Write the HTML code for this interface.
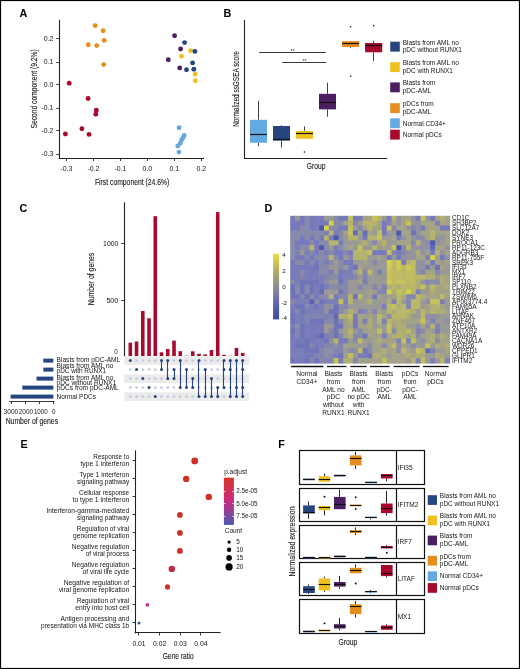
<!DOCTYPE html><html><head><meta charset="utf-8"><title>Figure</title><style>html,body{margin:0;padding:0;background:#fff;width:520px;height:669px;overflow:hidden}text{font-family:"Liberation Sans", sans-serif}</style></head><body><svg width="520" height="669" viewBox="0 0 520 669" style="display:block;will-change:transform;font-family:'Liberation Sans', sans-serif" fill="#222"><rect x="0" y="0" width="520" height="669" fill="#fff"/><text x="19.40" y="16.70" font-size="10.8" font-weight="bold" fill="#000">A</text>
<text x="223.40" y="16.70" font-size="10.8" font-weight="bold" fill="#000">B</text>
<text x="19.60" y="212.40" font-size="10.8" font-weight="bold" fill="#000">C</text>
<text x="264.40" y="212.00" font-size="10.8" font-weight="bold" fill="#000">D</text>
<text x="20.60" y="447.60" font-size="10.8" font-weight="bold" fill="#000">E</text>
<text x="278.20" y="448.30" font-size="10.8" font-weight="bold" fill="#000">F</text>
<line x1="59.50" y1="19.80" x2="59.50" y2="158.70" stroke="#222" stroke-width="1.1"/>
<line x1="58.70" y1="158.50" x2="204.00" y2="158.50" stroke="#222" stroke-width="1.1"/>
<line x1="56.30" y1="38.50" x2="59.20" y2="38.50" stroke="#222" stroke-width="0.9"/>
<text x="53.40" y="41.30" font-size="6.3" text-anchor="end" textLength="9.7" lengthAdjust="spacingAndGlyphs" fill="#151515">0.2</text>
<line x1="56.30" y1="62.50" x2="59.20" y2="62.50" stroke="#222" stroke-width="0.9"/>
<text x="53.40" y="64.30" font-size="6.3" text-anchor="end" textLength="9.7" lengthAdjust="spacingAndGlyphs" fill="#151515">0.1</text>
<line x1="56.30" y1="84.50" x2="59.20" y2="84.50" stroke="#222" stroke-width="0.9"/>
<text x="53.40" y="87.30" font-size="6.3" text-anchor="end" textLength="9.7" lengthAdjust="spacingAndGlyphs" fill="#151515">0.0</text>
<line x1="56.30" y1="108.50" x2="59.20" y2="108.50" stroke="#222" stroke-width="0.9"/>
<text x="53.40" y="110.30" font-size="6.3" text-anchor="end" textLength="11.9" lengthAdjust="spacingAndGlyphs" fill="#151515">-0.1</text>
<line x1="56.30" y1="130.50" x2="59.20" y2="130.50" stroke="#222" stroke-width="0.9"/>
<text x="53.40" y="133.30" font-size="6.3" text-anchor="end" textLength="11.9" lengthAdjust="spacingAndGlyphs" fill="#151515">-0.2</text>
<line x1="56.30" y1="154.50" x2="59.20" y2="154.50" stroke="#222" stroke-width="0.9"/>
<text x="53.40" y="156.30" font-size="6.3" text-anchor="end" textLength="11.9" lengthAdjust="spacingAndGlyphs" fill="#151515">-0.3</text>
<line x1="66.50" y1="158.20" x2="66.50" y2="161.00" stroke="#222" stroke-width="0.9"/>
<text x="66.40" y="171.40" font-size="6.3" text-anchor="middle" textLength="11.9" lengthAdjust="spacingAndGlyphs" fill="#151515">-0.3</text>
<line x1="93.50" y1="158.20" x2="93.50" y2="161.00" stroke="#222" stroke-width="0.9"/>
<text x="93.40" y="171.40" font-size="6.3" text-anchor="middle" textLength="11.9" lengthAdjust="spacingAndGlyphs" fill="#151515">-0.2</text>
<line x1="120.50" y1="158.20" x2="120.50" y2="161.00" stroke="#222" stroke-width="0.9"/>
<text x="120.40" y="171.40" font-size="6.3" text-anchor="middle" textLength="11.9" lengthAdjust="spacingAndGlyphs" fill="#151515">-0.1</text>
<line x1="147.50" y1="158.20" x2="147.50" y2="161.00" stroke="#222" stroke-width="0.9"/>
<text x="147.40" y="171.40" font-size="6.3" text-anchor="middle" textLength="9.7" lengthAdjust="spacingAndGlyphs" fill="#151515">0.0</text>
<line x1="174.50" y1="158.20" x2="174.50" y2="161.00" stroke="#222" stroke-width="0.9"/>
<text x="174.40" y="171.40" font-size="6.3" text-anchor="middle" textLength="9.7" lengthAdjust="spacingAndGlyphs" fill="#151515">0.1</text>
<line x1="201.50" y1="158.20" x2="201.50" y2="161.00" stroke="#222" stroke-width="0.9"/>
<text x="201.40" y="171.40" font-size="6.3" text-anchor="middle" textLength="9.7" lengthAdjust="spacingAndGlyphs" fill="#151515">0.2</text>
<text x="132.10" y="184.50" font-size="8.7" stroke="#151515" stroke-width="0.1" text-anchor="middle" textLength="74.4" lengthAdjust="spacingAndGlyphs" fill="#151515">First component (24.6%)</text>
<text x="36.70" y="88.90" font-size="8.7" stroke="#151515" stroke-width="0.1" text-anchor="middle" textLength="79.2" lengthAdjust="spacingAndGlyphs" fill="#151515" transform="rotate(-90 36.70 88.90)">Second component (9.2%)</text>
<circle cx="95.20" cy="25.60" r="2.45" fill="#e58d1d"/>
<circle cx="103.10" cy="30.80" r="2.45" fill="#e58d1d"/>
<circle cx="104.20" cy="40.40" r="2.45" fill="#e58d1d"/>
<circle cx="88.30" cy="44.80" r="2.45" fill="#e58d1d"/>
<circle cx="96.70" cy="45.60" r="2.45" fill="#e58d1d"/>
<circle cx="103.70" cy="64.60" r="2.45" fill="#e58d1d"/>
<circle cx="69.20" cy="83.30" r="2.45" fill="#a80a2e"/>
<circle cx="88.10" cy="98.50" r="2.45" fill="#a80a2e"/>
<circle cx="96.30" cy="110.20" r="2.45" fill="#a80a2e"/>
<circle cx="95.80" cy="114.20" r="2.45" fill="#a80a2e"/>
<circle cx="81.90" cy="128.70" r="2.45" fill="#a80a2e"/>
<circle cx="65.40" cy="134.00" r="2.45" fill="#a80a2e"/>
<circle cx="89.00" cy="134.40" r="2.45" fill="#a80a2e"/>
<circle cx="174.60" cy="35.70" r="2.45" fill="#4b1f60"/>
<circle cx="184.60" cy="42.60" r="2.45" fill="#27467f"/>
<circle cx="180.60" cy="49.00" r="2.45" fill="#4b1f60"/>
<circle cx="190.60" cy="50.80" r="2.45" fill="#f0c020"/>
<circle cx="194.90" cy="51.40" r="2.45" fill="#27467f"/>
<circle cx="181.50" cy="56.20" r="2.45" fill="#f0c020"/>
<circle cx="168.30" cy="59.70" r="2.45" fill="#4b1f60"/>
<circle cx="192.60" cy="62.90" r="2.45" fill="#27467f"/>
<circle cx="179.70" cy="67.90" r="2.45" fill="#4b1f60"/>
<circle cx="186.50" cy="69.80" r="2.45" fill="#27467f"/>
<circle cx="193.80" cy="69.30" r="2.45" fill="#27467f"/>
<circle cx="195.20" cy="74.10" r="2.45" fill="#f0c020"/>
<circle cx="195.30" cy="80.80" r="2.45" fill="#f0c020"/>
<circle cx="179.10" cy="127.70" r="2.45" fill="#64a9e0"/>
<circle cx="184.20" cy="135.40" r="2.45" fill="#64a9e0"/>
<circle cx="183.00" cy="137.90" r="2.45" fill="#64a9e0"/>
<circle cx="181.60" cy="140.00" r="2.45" fill="#64a9e0"/>
<circle cx="180.30" cy="143.30" r="2.45" fill="#64a9e0"/>
<circle cx="177.80" cy="146.00" r="2.45" fill="#64a9e0"/>
<circle cx="178.90" cy="152.10" r="2.45" fill="#64a9e0"/>
<line x1="244.50" y1="19.90" x2="244.50" y2="158.70" stroke="#222" stroke-width="1.1"/>
<line x1="244.20" y1="158.50" x2="387.20" y2="158.50" stroke="#222" stroke-width="1.1"/>
<text x="239.00" y="89.00" font-size="8.7" stroke="#151515" stroke-width="0.1" text-anchor="middle" textLength="75.7" lengthAdjust="spacingAndGlyphs" fill="#151515" transform="rotate(-90 239.00 89.00)">Normalized ssGSEA score</text>
<text x="316.05" y="169.30" font-size="8.7" stroke="#151515" stroke-width="0.1" text-anchor="middle" textLength="18.7" lengthAdjust="spacingAndGlyphs" fill="#151515">Group</text>
<line x1="259.20" y1="52.50" x2="325.80" y2="52.50" stroke="#222" stroke-width="0.9"/>
<text x="292.70" y="52.70" font-size="5.5" text-anchor="middle" fill="#333">**</text>
<line x1="282.20" y1="62.50" x2="326.20" y2="62.50" stroke="#222" stroke-width="0.9"/>
<text x="304.30" y="62.90" font-size="5.5" text-anchor="middle" fill="#333">**</text>
<line x1="258.50" y1="100.80" x2="258.50" y2="119.80" stroke="#111" stroke-width="0.8"/>
<line x1="258.50" y1="142.80" x2="258.50" y2="146.30" stroke="#111" stroke-width="0.8"/>
<rect x="250.00" y="119.80" width="17.00" height="23.00" fill="#64a9e0"/>
<line x1="250.00" y1="134.50" x2="267.00" y2="134.50" stroke="#111" stroke-width="1.2"/>
<line x1="281.50" y1="125.30" x2="281.50" y2="126.00" stroke="#111" stroke-width="0.8"/>
<line x1="281.50" y1="140.60" x2="281.50" y2="147.50" stroke="#111" stroke-width="0.8"/>
<rect x="273.00" y="126.00" width="17.00" height="14.60" fill="#27467f"/>
<line x1="273.00" y1="139.50" x2="290.00" y2="139.50" stroke="#111" stroke-width="1.2"/>
<line x1="304.50" y1="126.40" x2="304.50" y2="131.00" stroke="#111" stroke-width="0.8"/>
<rect x="295.90" y="131.00" width="17.10" height="7.80" fill="#f0c020"/>
<line x1="295.90" y1="133.50" x2="313.00" y2="133.50" stroke="#111" stroke-width="1.2"/>
<circle cx="304.45" cy="152.00" r="0.80" fill="#111"/>
<line x1="327.50" y1="82.60" x2="327.50" y2="93.80" stroke="#111" stroke-width="0.8"/>
<line x1="327.50" y1="109.40" x2="327.50" y2="116.70" stroke="#111" stroke-width="0.8"/>
<rect x="319.00" y="93.80" width="17.00" height="15.60" fill="#4b1f60"/>
<line x1="319.00" y1="102.50" x2="336.00" y2="102.50" stroke="#111" stroke-width="1.2"/>
<line x1="350.50" y1="47.00" x2="350.50" y2="48.00" stroke="#111" stroke-width="0.8"/>
<rect x="342.10" y="41.10" width="17.00" height="5.90" fill="#e58d1d"/>
<line x1="342.10" y1="43.50" x2="359.10" y2="43.50" stroke="#111" stroke-width="1.2"/>
<circle cx="350.60" cy="26.80" r="0.80" fill="#111"/>
<circle cx="350.60" cy="76.20" r="0.80" fill="#111"/>
<line x1="373.50" y1="40.60" x2="373.50" y2="43.00" stroke="#111" stroke-width="0.8"/>
<line x1="373.50" y1="52.30" x2="373.50" y2="61.20" stroke="#111" stroke-width="0.8"/>
<rect x="365.10" y="43.00" width="17.10" height="9.30" fill="#a80a2e"/>
<line x1="365.10" y1="45.50" x2="382.20" y2="45.50" stroke="#111" stroke-width="1.2"/>
<circle cx="373.65" cy="25.80" r="0.80" fill="#111"/>
<rect x="390.20" y="41.70" width="9.60" height="9.90" fill="#27467f"/>
<text x="402.70" y="44.75" font-size="6.5" fill="#151515">Blasts from AML no</text>
<text x="402.70" y="52.10" font-size="6.5" fill="#151515">pDC without RUNX1</text>
<rect x="390.20" y="62.20" width="9.60" height="9.90" fill="#f0c020"/>
<text x="402.70" y="65.25" font-size="6.5" fill="#151515">Blasts from AML no</text>
<text x="402.70" y="72.60" font-size="6.5" fill="#151515">pDC with RUNX1</text>
<rect x="390.20" y="82.40" width="9.60" height="9.90" fill="#4b1f60"/>
<text x="402.70" y="85.45" font-size="6.5" fill="#151515">Blasts from</text>
<text x="402.70" y="92.80" font-size="6.5" fill="#151515">pDC-AML</text>
<rect x="390.20" y="103.20" width="9.60" height="9.90" fill="#e58d1d"/>
<text x="402.70" y="106.25" font-size="6.5" fill="#151515">pDCs from</text>
<text x="402.70" y="113.60" font-size="6.5" fill="#151515">pDC-AML</text>
<rect x="390.20" y="118.30" width="9.60" height="9.90" fill="#64a9e0"/>
<text x="402.70" y="125.55" font-size="6.5" fill="#151515">Normal CD34+</text>
<rect x="390.20" y="129.70" width="9.60" height="9.90" fill="#a80a2e"/>
<text x="402.70" y="136.95" font-size="6.5" fill="#151515">Normal pDCs</text>
<line x1="124.50" y1="202.30" x2="124.50" y2="356.40" stroke="#222" stroke-width="1.1"/>
<line x1="121.20" y1="243.50" x2="124.00" y2="243.50" stroke="#222" stroke-width="0.9"/>
<text x="118.30" y="246.30" font-size="6.5" text-anchor="end" textLength="15.2" lengthAdjust="spacingAndGlyphs" fill="#151515">1000</text>
<line x1="121.20" y1="300.50" x2="124.00" y2="300.50" stroke="#222" stroke-width="0.9"/>
<text x="118.30" y="302.50" font-size="6.5" text-anchor="end" textLength="11.9" lengthAdjust="spacingAndGlyphs" fill="#151515">500</text>
<text x="117.90" y="353.90" font-size="6.4" text-anchor="end" fill="#151515">0</text>
<text x="94.20" y="279.00" font-size="8.7" stroke="#151515" stroke-width="0.1" text-anchor="middle" textLength="52.6" lengthAdjust="spacingAndGlyphs" fill="#151515" transform="rotate(-90 94.20 279.00)">Number of genes</text>
<rect x="128.50" y="342.70" width="3.60" height="13.30" fill="#a80a2e"/>
<rect x="134.75" y="341.50" width="3.60" height="14.50" fill="#a80a2e"/>
<rect x="140.99" y="311.00" width="3.60" height="45.00" fill="#a80a2e"/>
<rect x="147.24" y="318.30" width="3.60" height="37.70" fill="#a80a2e"/>
<rect x="153.48" y="216.20" width="3.60" height="139.80" fill="#a80a2e"/>
<rect x="159.72" y="352.30" width="3.60" height="3.70" fill="#a80a2e"/>
<rect x="165.97" y="349.00" width="3.60" height="7.00" fill="#a80a2e"/>
<rect x="172.22" y="340.60" width="3.60" height="15.40" fill="#a80a2e"/>
<rect x="178.46" y="351.20" width="3.60" height="4.80" fill="#a80a2e"/>
<rect x="184.70" y="355.20" width="3.60" height="0.80" fill="#e8a0b0"/>
<rect x="190.95" y="351.30" width="3.60" height="4.70" fill="#a80a2e"/>
<rect x="197.19" y="353.80" width="3.60" height="2.20" fill="#a80a2e"/>
<rect x="203.44" y="354.40" width="3.60" height="1.60" fill="#a80a2e"/>
<rect x="209.69" y="350.00" width="3.60" height="6.00" fill="#a80a2e"/>
<rect x="215.93" y="212.10" width="3.60" height="143.90" fill="#a80a2e"/>
<rect x="222.18" y="354.80" width="3.60" height="1.20" fill="#a80a2e"/>
<rect x="228.42" y="355.40" width="3.60" height="0.60" fill="#e8a0b0"/>
<rect x="234.67" y="347.90" width="3.60" height="8.10" fill="#a80a2e"/>
<rect x="240.91" y="352.90" width="3.60" height="3.10" fill="#a80a2e"/>
<rect x="124.20" y="356.30" width="125.00" height="8.60" fill="#ebebeb"/>
<rect x="124.20" y="374.30" width="125.00" height="8.60" fill="#ebebeb"/>
<rect x="124.20" y="392.30" width="125.00" height="8.60" fill="#ebebeb"/>
<circle cx="130.30" cy="369.60" r="1.35" fill="#c6cade"/>
<circle cx="130.30" cy="378.60" r="1.35" fill="#c6cade"/>
<circle cx="130.30" cy="387.60" r="1.35" fill="#c6cade"/>
<circle cx="130.30" cy="396.60" r="1.35" fill="#c6cade"/>
<circle cx="130.30" cy="360.60" r="1.50" fill="#27467f"/>
<circle cx="136.55" cy="360.60" r="1.35" fill="#c6cade"/>
<circle cx="136.55" cy="378.60" r="1.35" fill="#c6cade"/>
<circle cx="136.55" cy="387.60" r="1.35" fill="#c6cade"/>
<circle cx="136.55" cy="396.60" r="1.35" fill="#c6cade"/>
<circle cx="136.55" cy="369.60" r="1.50" fill="#27467f"/>
<circle cx="142.79" cy="360.60" r="1.35" fill="#c6cade"/>
<circle cx="142.79" cy="369.60" r="1.35" fill="#c6cade"/>
<circle cx="142.79" cy="387.60" r="1.35" fill="#c6cade"/>
<circle cx="142.79" cy="396.60" r="1.35" fill="#c6cade"/>
<circle cx="142.79" cy="378.60" r="1.50" fill="#27467f"/>
<circle cx="149.04" cy="360.60" r="1.35" fill="#c6cade"/>
<circle cx="149.04" cy="369.60" r="1.35" fill="#c6cade"/>
<circle cx="149.04" cy="378.60" r="1.35" fill="#c6cade"/>
<circle cx="149.04" cy="396.60" r="1.35" fill="#c6cade"/>
<circle cx="149.04" cy="387.60" r="1.50" fill="#27467f"/>
<circle cx="155.28" cy="360.60" r="1.35" fill="#c6cade"/>
<circle cx="155.28" cy="369.60" r="1.35" fill="#c6cade"/>
<circle cx="155.28" cy="378.60" r="1.35" fill="#c6cade"/>
<circle cx="155.28" cy="387.60" r="1.35" fill="#c6cade"/>
<circle cx="155.28" cy="396.60" r="1.50" fill="#27467f"/>
<circle cx="161.53" cy="378.60" r="1.35" fill="#c6cade"/>
<circle cx="161.53" cy="387.60" r="1.35" fill="#c6cade"/>
<circle cx="161.53" cy="396.60" r="1.35" fill="#c6cade"/>
<line x1="161.50" y1="360.60" x2="161.50" y2="369.60" stroke="#27467f" stroke-width="1.1"/>
<circle cx="161.53" cy="360.60" r="1.50" fill="#27467f"/>
<circle cx="161.53" cy="369.60" r="1.50" fill="#27467f"/>
<circle cx="167.77" cy="369.60" r="1.35" fill="#c6cade"/>
<circle cx="167.77" cy="387.60" r="1.35" fill="#c6cade"/>
<circle cx="167.77" cy="396.60" r="1.35" fill="#c6cade"/>
<line x1="167.50" y1="360.60" x2="167.50" y2="378.60" stroke="#27467f" stroke-width="1.1"/>
<circle cx="167.77" cy="360.60" r="1.50" fill="#27467f"/>
<circle cx="167.77" cy="378.60" r="1.50" fill="#27467f"/>
<circle cx="174.02" cy="360.60" r="1.35" fill="#c6cade"/>
<circle cx="174.02" cy="387.60" r="1.35" fill="#c6cade"/>
<circle cx="174.02" cy="396.60" r="1.35" fill="#c6cade"/>
<line x1="174.50" y1="369.60" x2="174.50" y2="378.60" stroke="#27467f" stroke-width="1.1"/>
<circle cx="174.02" cy="369.60" r="1.50" fill="#27467f"/>
<circle cx="174.02" cy="378.60" r="1.50" fill="#27467f"/>
<circle cx="180.26" cy="369.60" r="1.35" fill="#c6cade"/>
<circle cx="180.26" cy="378.60" r="1.35" fill="#c6cade"/>
<circle cx="180.26" cy="396.60" r="1.35" fill="#c6cade"/>
<line x1="180.50" y1="360.60" x2="180.50" y2="387.60" stroke="#27467f" stroke-width="1.1"/>
<circle cx="180.26" cy="360.60" r="1.50" fill="#27467f"/>
<circle cx="180.26" cy="387.60" r="1.50" fill="#27467f"/>
<circle cx="186.50" cy="360.60" r="1.35" fill="#c6cade"/>
<circle cx="186.50" cy="378.60" r="1.35" fill="#c6cade"/>
<circle cx="186.50" cy="396.60" r="1.35" fill="#c6cade"/>
<line x1="186.50" y1="369.60" x2="186.50" y2="387.60" stroke="#27467f" stroke-width="1.1"/>
<circle cx="186.50" cy="369.60" r="1.50" fill="#27467f"/>
<circle cx="186.50" cy="387.60" r="1.50" fill="#27467f"/>
<circle cx="192.75" cy="360.60" r="1.35" fill="#c6cade"/>
<circle cx="192.75" cy="369.60" r="1.35" fill="#c6cade"/>
<circle cx="192.75" cy="396.60" r="1.35" fill="#c6cade"/>
<line x1="192.50" y1="378.60" x2="192.50" y2="387.60" stroke="#27467f" stroke-width="1.1"/>
<circle cx="192.75" cy="378.60" r="1.50" fill="#27467f"/>
<circle cx="192.75" cy="387.60" r="1.50" fill="#27467f"/>
<circle cx="199.00" cy="369.60" r="1.35" fill="#c6cade"/>
<circle cx="199.00" cy="378.60" r="1.35" fill="#c6cade"/>
<circle cx="199.00" cy="387.60" r="1.35" fill="#c6cade"/>
<line x1="198.50" y1="360.60" x2="198.50" y2="396.60" stroke="#27467f" stroke-width="1.1"/>
<circle cx="199.00" cy="360.60" r="1.50" fill="#27467f"/>
<circle cx="199.00" cy="396.60" r="1.50" fill="#27467f"/>
<circle cx="205.24" cy="360.60" r="1.35" fill="#c6cade"/>
<circle cx="205.24" cy="378.60" r="1.35" fill="#c6cade"/>
<circle cx="205.24" cy="387.60" r="1.35" fill="#c6cade"/>
<line x1="205.50" y1="369.60" x2="205.50" y2="396.60" stroke="#27467f" stroke-width="1.1"/>
<circle cx="205.24" cy="369.60" r="1.50" fill="#27467f"/>
<circle cx="205.24" cy="396.60" r="1.50" fill="#27467f"/>
<circle cx="211.49" cy="360.60" r="1.35" fill="#c6cade"/>
<circle cx="211.49" cy="369.60" r="1.35" fill="#c6cade"/>
<circle cx="211.49" cy="387.60" r="1.35" fill="#c6cade"/>
<line x1="211.50" y1="378.60" x2="211.50" y2="396.60" stroke="#27467f" stroke-width="1.1"/>
<circle cx="211.49" cy="378.60" r="1.50" fill="#27467f"/>
<circle cx="211.49" cy="396.60" r="1.50" fill="#27467f"/>
<circle cx="217.73" cy="360.60" r="1.35" fill="#c6cade"/>
<circle cx="217.73" cy="369.60" r="1.35" fill="#c6cade"/>
<circle cx="217.73" cy="378.60" r="1.35" fill="#c6cade"/>
<line x1="217.50" y1="387.60" x2="217.50" y2="396.60" stroke="#27467f" stroke-width="1.1"/>
<circle cx="217.73" cy="387.60" r="1.50" fill="#27467f"/>
<circle cx="217.73" cy="396.60" r="1.50" fill="#27467f"/>
<circle cx="223.98" cy="378.60" r="1.35" fill="#c6cade"/>
<circle cx="223.98" cy="396.60" r="1.35" fill="#c6cade"/>
<line x1="223.50" y1="360.60" x2="223.50" y2="387.60" stroke="#27467f" stroke-width="1.1"/>
<circle cx="223.98" cy="360.60" r="1.50" fill="#27467f"/>
<circle cx="223.98" cy="369.60" r="1.50" fill="#27467f"/>
<circle cx="223.98" cy="387.60" r="1.50" fill="#27467f"/>
<circle cx="230.22" cy="378.60" r="1.35" fill="#c6cade"/>
<circle cx="230.22" cy="387.60" r="1.35" fill="#c6cade"/>
<line x1="230.50" y1="360.60" x2="230.50" y2="396.60" stroke="#27467f" stroke-width="1.1"/>
<circle cx="230.22" cy="360.60" r="1.50" fill="#27467f"/>
<circle cx="230.22" cy="369.60" r="1.50" fill="#27467f"/>
<circle cx="230.22" cy="396.60" r="1.50" fill="#27467f"/>
<circle cx="236.47" cy="369.60" r="1.35" fill="#c6cade"/>
<circle cx="236.47" cy="378.60" r="1.35" fill="#c6cade"/>
<line x1="236.50" y1="360.60" x2="236.50" y2="396.60" stroke="#27467f" stroke-width="1.1"/>
<circle cx="236.47" cy="360.60" r="1.50" fill="#27467f"/>
<circle cx="236.47" cy="387.60" r="1.50" fill="#27467f"/>
<circle cx="236.47" cy="396.60" r="1.50" fill="#27467f"/>
<circle cx="242.71" cy="378.60" r="1.35" fill="#c6cade"/>
<line x1="242.50" y1="360.60" x2="242.50" y2="396.60" stroke="#27467f" stroke-width="1.1"/>
<circle cx="242.71" cy="360.60" r="1.50" fill="#27467f"/>
<circle cx="242.71" cy="369.60" r="1.50" fill="#27467f"/>
<circle cx="242.71" cy="387.60" r="1.50" fill="#27467f"/>
<circle cx="242.71" cy="396.60" r="1.50" fill="#27467f"/>
<rect x="43.30" y="358.60" width="10.00" height="4.00" fill="#27467f"/>
<rect x="43.30" y="367.60" width="10.00" height="4.00" fill="#27467f"/>
<rect x="36.50" y="376.60" width="16.80" height="4.00" fill="#27467f"/>
<rect x="22.30" y="385.60" width="31.00" height="4.00" fill="#27467f"/>
<rect x="10.60" y="394.60" width="42.70" height="4.00" fill="#27467f"/>
<line x1="9.20" y1="401.50" x2="54.40" y2="401.50" stroke="#222" stroke-width="0.9"/>
<line x1="11.50" y1="401.50" x2="11.50" y2="404.00" stroke="#222" stroke-width="0.9"/>
<line x1="25.50" y1="401.50" x2="25.50" y2="404.00" stroke="#222" stroke-width="0.9"/>
<line x1="39.50" y1="401.50" x2="39.50" y2="404.00" stroke="#222" stroke-width="0.9"/>
<line x1="53.50" y1="401.50" x2="53.50" y2="404.00" stroke="#222" stroke-width="0.9"/>
<text x="3.60" y="414.00" font-size="6.3" textLength="14.6" lengthAdjust="spacingAndGlyphs" fill="#151515">3000</text>
<text x="18.80" y="414.00" font-size="6.3" textLength="14.2" lengthAdjust="spacingAndGlyphs" fill="#151515">2000</text>
<text x="33.90" y="414.00" font-size="6.3" textLength="13.899999999999999" lengthAdjust="spacingAndGlyphs" fill="#151515">1000</text>
<text x="52.10" y="414.00" font-size="6.3" fill="#151515">0</text>
<text x="5.70" y="424.30" font-size="8.7" stroke="#151515" stroke-width="0.1" textLength="52.4" lengthAdjust="spacingAndGlyphs" fill="#151515">Number of genes</text>
<text x="56.60" y="362.40" font-size="6.4" textLength="63.6" lengthAdjust="spacingAndGlyphs" fill="#151515">Blasts from pDC-AML</text>
<text x="56.60" y="368.20" font-size="6.4" textLength="56.8" lengthAdjust="spacingAndGlyphs" fill="#151515">Blasts from AML no</text>
<text x="56.60" y="372.90" font-size="6.4" textLength="49.4" lengthAdjust="spacingAndGlyphs" fill="#151515">pDC with RUNX1</text>
<text x="56.60" y="379.60" font-size="6.4" textLength="56.8" lengthAdjust="spacingAndGlyphs" fill="#151515">Blasts from AML no</text>
<text x="56.60" y="384.90" font-size="6.4" textLength="59.5" lengthAdjust="spacingAndGlyphs" fill="#151515">pDC without RUNX1</text>
<text x="56.60" y="390.30" font-size="6.4" textLength="62.2" lengthAdjust="spacingAndGlyphs" fill="#151515">pDCs from pDC-AML</text>
<text x="56.60" y="399.10" font-size="6.4" textLength="39.3" lengthAdjust="spacingAndGlyphs" fill="#151515">Normal PDCs</text>
<rect x="290.20" y="215.80" width="5.43" height="5.51" fill="#7a7eb8"/>
<rect x="295.03" y="215.80" width="5.43" height="5.51" fill="#999996"/>
<rect x="299.85" y="215.80" width="5.43" height="5.51" fill="#767abc"/>
<rect x="304.68" y="215.80" width="5.43" height="5.51" fill="#888aaa"/>
<rect x="309.51" y="215.80" width="5.43" height="5.51" fill="#767abc"/>
<rect x="314.34" y="215.80" width="5.43" height="5.51" fill="#767abc"/>
<rect x="319.16" y="215.80" width="5.43" height="5.51" fill="#767abc"/>
<rect x="323.99" y="215.80" width="5.43" height="5.51" fill="#999996"/>
<rect x="328.82" y="215.80" width="5.43" height="5.51" fill="#999996"/>
<rect x="333.65" y="215.80" width="5.43" height="5.51" fill="#888aaa"/>
<rect x="338.47" y="215.80" width="5.43" height="5.51" fill="#767abc"/>
<rect x="343.30" y="215.80" width="5.43" height="5.51" fill="#767abc"/>
<rect x="348.13" y="215.80" width="5.43" height="5.51" fill="#c6c25b"/>
<rect x="352.95" y="215.80" width="5.43" height="5.51" fill="#767abc"/>
<rect x="357.78" y="215.80" width="5.43" height="5.51" fill="#767abc"/>
<rect x="362.61" y="215.80" width="5.43" height="5.51" fill="#a4a386"/>
<rect x="367.44" y="215.80" width="5.43" height="5.51" fill="#a4a386"/>
<rect x="372.26" y="215.80" width="5.43" height="5.51" fill="#c6c25b"/>
<rect x="377.09" y="215.80" width="5.43" height="5.51" fill="#b6b46c"/>
<rect x="381.92" y="215.80" width="5.43" height="5.51" fill="#999996"/>
<rect x="386.75" y="215.80" width="5.43" height="5.51" fill="#767abc"/>
<rect x="391.57" y="215.80" width="5.43" height="5.51" fill="#b6b46c"/>
<rect x="396.40" y="215.80" width="5.43" height="5.51" fill="#9292a0"/>
<rect x="401.23" y="215.80" width="5.43" height="5.51" fill="#a4a386"/>
<rect x="406.05" y="215.80" width="5.43" height="5.51" fill="#a4a386"/>
<rect x="410.88" y="215.80" width="5.43" height="5.51" fill="#9292a0"/>
<rect x="415.71" y="215.80" width="5.43" height="5.51" fill="#767abc"/>
<rect x="420.54" y="215.80" width="5.43" height="5.51" fill="#c6c25b"/>
<rect x="425.36" y="215.80" width="5.43" height="5.51" fill="#9292a0"/>
<rect x="430.19" y="215.80" width="5.43" height="5.51" fill="#767abc"/>
<rect x="435.02" y="215.80" width="5.43" height="5.51" fill="#a4a386"/>
<rect x="439.85" y="215.80" width="5.43" height="5.51" fill="#b6b46c"/>
<rect x="444.67" y="215.80" width="5.43" height="5.51" fill="#a4a386"/>
<rect x="290.20" y="220.71" width="5.43" height="5.51" fill="#767abc"/>
<rect x="295.03" y="220.71" width="5.43" height="5.51" fill="#767abc"/>
<rect x="299.85" y="220.71" width="5.43" height="5.51" fill="#767abc"/>
<rect x="304.68" y="220.71" width="5.43" height="5.51" fill="#888aaa"/>
<rect x="309.51" y="220.71" width="5.43" height="5.51" fill="#767abc"/>
<rect x="314.34" y="220.71" width="5.43" height="5.51" fill="#7a7eb8"/>
<rect x="319.16" y="220.71" width="5.43" height="5.51" fill="#767abc"/>
<rect x="323.99" y="220.71" width="5.43" height="5.51" fill="#767abc"/>
<rect x="328.82" y="220.71" width="5.43" height="5.51" fill="#d6d04a"/>
<rect x="333.65" y="220.71" width="5.43" height="5.51" fill="#888aaa"/>
<rect x="338.47" y="220.71" width="5.43" height="5.51" fill="#888aaa"/>
<rect x="343.30" y="220.71" width="5.43" height="5.51" fill="#a4a386"/>
<rect x="348.13" y="220.71" width="5.43" height="5.51" fill="#b6b46c"/>
<rect x="352.95" y="220.71" width="5.43" height="5.51" fill="#8486ae"/>
<rect x="357.78" y="220.71" width="5.43" height="5.51" fill="#999996"/>
<rect x="362.61" y="220.71" width="5.43" height="5.51" fill="#b6b46c"/>
<rect x="367.44" y="220.71" width="5.43" height="5.51" fill="#b6b46c"/>
<rect x="372.26" y="220.71" width="5.43" height="5.51" fill="#b6b46c"/>
<rect x="377.09" y="220.71" width="5.43" height="5.51" fill="#a4a386"/>
<rect x="381.92" y="220.71" width="5.43" height="5.51" fill="#767abc"/>
<rect x="386.75" y="220.71" width="5.43" height="5.51" fill="#8486ae"/>
<rect x="391.57" y="220.71" width="5.43" height="5.51" fill="#a4a386"/>
<rect x="396.40" y="220.71" width="5.43" height="5.51" fill="#9292a0"/>
<rect x="401.23" y="220.71" width="5.43" height="5.51" fill="#a4a386"/>
<rect x="406.05" y="220.71" width="5.43" height="5.51" fill="#c6c25b"/>
<rect x="410.88" y="220.71" width="5.43" height="5.51" fill="#9292a0"/>
<rect x="415.71" y="220.71" width="5.43" height="5.51" fill="#9292a0"/>
<rect x="420.54" y="220.71" width="5.43" height="5.51" fill="#a4a386"/>
<rect x="425.36" y="220.71" width="5.43" height="5.51" fill="#a4a386"/>
<rect x="430.19" y="220.71" width="5.43" height="5.51" fill="#a4a386"/>
<rect x="435.02" y="220.71" width="5.43" height="5.51" fill="#7c7fb6"/>
<rect x="439.85" y="220.71" width="5.43" height="5.51" fill="#a4a386"/>
<rect x="444.67" y="220.71" width="5.43" height="5.51" fill="#a4a386"/>
<rect x="290.20" y="225.61" width="5.43" height="5.51" fill="#767abc"/>
<rect x="295.03" y="225.61" width="5.43" height="5.51" fill="#767abc"/>
<rect x="299.85" y="225.61" width="5.43" height="5.51" fill="#888aaa"/>
<rect x="304.68" y="225.61" width="5.43" height="5.51" fill="#888aaa"/>
<rect x="309.51" y="225.61" width="5.43" height="5.51" fill="#767abc"/>
<rect x="314.34" y="225.61" width="5.43" height="5.51" fill="#7a7eb8"/>
<rect x="319.16" y="225.61" width="5.43" height="5.51" fill="#4c58b0"/>
<rect x="323.99" y="225.61" width="5.43" height="5.51" fill="#d6d04a"/>
<rect x="328.82" y="225.61" width="5.43" height="5.51" fill="#888aaa"/>
<rect x="333.65" y="225.61" width="5.43" height="5.51" fill="#888aaa"/>
<rect x="338.47" y="225.61" width="5.43" height="5.51" fill="#7a7eb8"/>
<rect x="343.30" y="225.61" width="5.43" height="5.51" fill="#767abc"/>
<rect x="348.13" y="225.61" width="5.43" height="5.51" fill="#c6c25b"/>
<rect x="352.95" y="225.61" width="5.43" height="5.51" fill="#999996"/>
<rect x="357.78" y="225.61" width="5.43" height="5.51" fill="#8486ae"/>
<rect x="362.61" y="225.61" width="5.43" height="5.51" fill="#a4a386"/>
<rect x="367.44" y="225.61" width="5.43" height="5.51" fill="#b6b46c"/>
<rect x="372.26" y="225.61" width="5.43" height="5.51" fill="#a4a386"/>
<rect x="377.09" y="225.61" width="5.43" height="5.51" fill="#a4a386"/>
<rect x="381.92" y="225.61" width="5.43" height="5.51" fill="#767abc"/>
<rect x="386.75" y="225.61" width="5.43" height="5.51" fill="#c6c25b"/>
<rect x="391.57" y="225.61" width="5.43" height="5.51" fill="#8486ae"/>
<rect x="396.40" y="225.61" width="5.43" height="5.51" fill="#a4a386"/>
<rect x="401.23" y="225.61" width="5.43" height="5.51" fill="#a4a386"/>
<rect x="406.05" y="225.61" width="5.43" height="5.51" fill="#9292a0"/>
<rect x="410.88" y="225.61" width="5.43" height="5.51" fill="#8486ae"/>
<rect x="415.71" y="225.61" width="5.43" height="5.51" fill="#9292a0"/>
<rect x="420.54" y="225.61" width="5.43" height="5.51" fill="#767abc"/>
<rect x="425.36" y="225.61" width="5.43" height="5.51" fill="#a4a386"/>
<rect x="430.19" y="225.61" width="5.43" height="5.51" fill="#a4a386"/>
<rect x="435.02" y="225.61" width="5.43" height="5.51" fill="#a4a386"/>
<rect x="439.85" y="225.61" width="5.43" height="5.51" fill="#767abc"/>
<rect x="444.67" y="225.61" width="5.43" height="5.51" fill="#767abc"/>
<rect x="290.20" y="230.52" width="5.43" height="5.51" fill="#888aaa"/>
<rect x="295.03" y="230.52" width="5.43" height="5.51" fill="#888aaa"/>
<rect x="299.85" y="230.52" width="5.43" height="5.51" fill="#888aaa"/>
<rect x="304.68" y="230.52" width="5.43" height="5.51" fill="#888aaa"/>
<rect x="309.51" y="230.52" width="5.43" height="5.51" fill="#888aaa"/>
<rect x="314.34" y="230.52" width="5.43" height="5.51" fill="#888aaa"/>
<rect x="319.16" y="230.52" width="5.43" height="5.51" fill="#888aaa"/>
<rect x="323.99" y="230.52" width="5.43" height="5.51" fill="#7a7eb8"/>
<rect x="328.82" y="230.52" width="5.43" height="5.51" fill="#b6b46c"/>
<rect x="333.65" y="230.52" width="5.43" height="5.51" fill="#7a7eb8"/>
<rect x="338.47" y="230.52" width="5.43" height="5.51" fill="#888aaa"/>
<rect x="343.30" y="230.52" width="5.43" height="5.51" fill="#a4a386"/>
<rect x="348.13" y="230.52" width="5.43" height="5.51" fill="#c6c25b"/>
<rect x="352.95" y="230.52" width="5.43" height="5.51" fill="#656cb7"/>
<rect x="357.78" y="230.52" width="5.43" height="5.51" fill="#a4a386"/>
<rect x="362.61" y="230.52" width="5.43" height="5.51" fill="#656cb7"/>
<rect x="367.44" y="230.52" width="5.43" height="5.51" fill="#a4a386"/>
<rect x="372.26" y="230.52" width="5.43" height="5.51" fill="#999996"/>
<rect x="377.09" y="230.52" width="5.43" height="5.51" fill="#c6c25b"/>
<rect x="381.92" y="230.52" width="5.43" height="5.51" fill="#767abc"/>
<rect x="386.75" y="230.52" width="5.43" height="5.51" fill="#999996"/>
<rect x="391.57" y="230.52" width="5.43" height="5.51" fill="#999996"/>
<rect x="396.40" y="230.52" width="5.43" height="5.51" fill="#4c58b0"/>
<rect x="401.23" y="230.52" width="5.43" height="5.51" fill="#a4a386"/>
<rect x="406.05" y="230.52" width="5.43" height="5.51" fill="#a4a386"/>
<rect x="410.88" y="230.52" width="5.43" height="5.51" fill="#6e73ba"/>
<rect x="415.71" y="230.52" width="5.43" height="5.51" fill="#9292a0"/>
<rect x="420.54" y="230.52" width="5.43" height="5.51" fill="#a4a386"/>
<rect x="425.36" y="230.52" width="5.43" height="5.51" fill="#a4a386"/>
<rect x="430.19" y="230.52" width="5.43" height="5.51" fill="#b6b46c"/>
<rect x="435.02" y="230.52" width="5.43" height="5.51" fill="#a4a386"/>
<rect x="439.85" y="230.52" width="5.43" height="5.51" fill="#a4a386"/>
<rect x="444.67" y="230.52" width="5.43" height="5.51" fill="#a4a386"/>
<rect x="290.20" y="235.43" width="5.43" height="5.51" fill="#888aaa"/>
<rect x="295.03" y="235.43" width="5.43" height="5.51" fill="#888aaa"/>
<rect x="299.85" y="235.43" width="5.43" height="5.51" fill="#767abc"/>
<rect x="304.68" y="235.43" width="5.43" height="5.51" fill="#888aaa"/>
<rect x="309.51" y="235.43" width="5.43" height="5.51" fill="#767abc"/>
<rect x="314.34" y="235.43" width="5.43" height="5.51" fill="#888aaa"/>
<rect x="319.16" y="235.43" width="5.43" height="5.51" fill="#767abc"/>
<rect x="323.99" y="235.43" width="5.43" height="5.51" fill="#b6b46c"/>
<rect x="328.82" y="235.43" width="5.43" height="5.51" fill="#7a7eb8"/>
<rect x="333.65" y="235.43" width="5.43" height="5.51" fill="#4c58b0"/>
<rect x="338.47" y="235.43" width="5.43" height="5.51" fill="#888aaa"/>
<rect x="343.30" y="235.43" width="5.43" height="5.51" fill="#999996"/>
<rect x="348.13" y="235.43" width="5.43" height="5.51" fill="#b6b46c"/>
<rect x="352.95" y="235.43" width="5.43" height="5.51" fill="#b6b46c"/>
<rect x="357.78" y="235.43" width="5.43" height="5.51" fill="#999996"/>
<rect x="362.61" y="235.43" width="5.43" height="5.51" fill="#767abc"/>
<rect x="367.44" y="235.43" width="5.43" height="5.51" fill="#b6b46c"/>
<rect x="372.26" y="235.43" width="5.43" height="5.51" fill="#b6b46c"/>
<rect x="377.09" y="235.43" width="5.43" height="5.51" fill="#c6c25b"/>
<rect x="381.92" y="235.43" width="5.43" height="5.51" fill="#999996"/>
<rect x="386.75" y="235.43" width="5.43" height="5.51" fill="#999996"/>
<rect x="391.57" y="235.43" width="5.43" height="5.51" fill="#a4a386"/>
<rect x="396.40" y="235.43" width="5.43" height="5.51" fill="#767abc"/>
<rect x="401.23" y="235.43" width="5.43" height="5.51" fill="#9292a0"/>
<rect x="406.05" y="235.43" width="5.43" height="5.51" fill="#a4a386"/>
<rect x="410.88" y="235.43" width="5.43" height="5.51" fill="#9292a0"/>
<rect x="415.71" y="235.43" width="5.43" height="5.51" fill="#8a8ba8"/>
<rect x="420.54" y="235.43" width="5.43" height="5.51" fill="#8a8ba8"/>
<rect x="425.36" y="235.43" width="5.43" height="5.51" fill="#a4a386"/>
<rect x="430.19" y="235.43" width="5.43" height="5.51" fill="#b6b46c"/>
<rect x="435.02" y="235.43" width="5.43" height="5.51" fill="#9292a0"/>
<rect x="439.85" y="235.43" width="5.43" height="5.51" fill="#9292a0"/>
<rect x="444.67" y="235.43" width="5.43" height="5.51" fill="#a4a386"/>
<rect x="290.20" y="240.33" width="5.43" height="5.51" fill="#888aaa"/>
<rect x="295.03" y="240.33" width="5.43" height="5.51" fill="#767abc"/>
<rect x="299.85" y="240.33" width="5.43" height="5.51" fill="#767abc"/>
<rect x="304.68" y="240.33" width="5.43" height="5.51" fill="#767abc"/>
<rect x="309.51" y="240.33" width="5.43" height="5.51" fill="#888aaa"/>
<rect x="314.34" y="240.33" width="5.43" height="5.51" fill="#767abc"/>
<rect x="319.16" y="240.33" width="5.43" height="5.51" fill="#888aaa"/>
<rect x="323.99" y="240.33" width="5.43" height="5.51" fill="#888aaa"/>
<rect x="328.82" y="240.33" width="5.43" height="5.51" fill="#b6b46c"/>
<rect x="333.65" y="240.33" width="5.43" height="5.51" fill="#b6b46c"/>
<rect x="338.47" y="240.33" width="5.43" height="5.51" fill="#7a7eb8"/>
<rect x="343.30" y="240.33" width="5.43" height="5.51" fill="#999996"/>
<rect x="348.13" y="240.33" width="5.43" height="5.51" fill="#999996"/>
<rect x="352.95" y="240.33" width="5.43" height="5.51" fill="#999996"/>
<rect x="357.78" y="240.33" width="5.43" height="5.51" fill="#a4a386"/>
<rect x="362.61" y="240.33" width="5.43" height="5.51" fill="#b6b46c"/>
<rect x="367.44" y="240.33" width="5.43" height="5.51" fill="#999996"/>
<rect x="372.26" y="240.33" width="5.43" height="5.51" fill="#8486ae"/>
<rect x="377.09" y="240.33" width="5.43" height="5.51" fill="#a4a386"/>
<rect x="381.92" y="240.33" width="5.43" height="5.51" fill="#b6b46c"/>
<rect x="386.75" y="240.33" width="5.43" height="5.51" fill="#999996"/>
<rect x="391.57" y="240.33" width="5.43" height="5.51" fill="#999996"/>
<rect x="396.40" y="240.33" width="5.43" height="5.51" fill="#a4a386"/>
<rect x="401.23" y="240.33" width="5.43" height="5.51" fill="#a4a386"/>
<rect x="406.05" y="240.33" width="5.43" height="5.51" fill="#a4a386"/>
<rect x="410.88" y="240.33" width="5.43" height="5.51" fill="#8486ae"/>
<rect x="415.71" y="240.33" width="5.43" height="5.51" fill="#b6b46c"/>
<rect x="420.54" y="240.33" width="5.43" height="5.51" fill="#9292a0"/>
<rect x="425.36" y="240.33" width="5.43" height="5.51" fill="#8a8ba8"/>
<rect x="430.19" y="240.33" width="5.43" height="5.51" fill="#4c58b0"/>
<rect x="435.02" y="240.33" width="5.43" height="5.51" fill="#9292a0"/>
<rect x="439.85" y="240.33" width="5.43" height="5.51" fill="#999996"/>
<rect x="444.67" y="240.33" width="5.43" height="5.51" fill="#a4a386"/>
<rect x="290.20" y="245.24" width="5.43" height="5.51" fill="#888aaa"/>
<rect x="295.03" y="245.24" width="5.43" height="5.51" fill="#767abc"/>
<rect x="299.85" y="245.24" width="5.43" height="5.51" fill="#888aaa"/>
<rect x="304.68" y="245.24" width="5.43" height="5.51" fill="#888aaa"/>
<rect x="309.51" y="245.24" width="5.43" height="5.51" fill="#b6b46c"/>
<rect x="314.34" y="245.24" width="5.43" height="5.51" fill="#767abc"/>
<rect x="319.16" y="245.24" width="5.43" height="5.51" fill="#4c58b0"/>
<rect x="323.99" y="245.24" width="5.43" height="5.51" fill="#888aaa"/>
<rect x="328.82" y="245.24" width="5.43" height="5.51" fill="#999996"/>
<rect x="333.65" y="245.24" width="5.43" height="5.51" fill="#7a7eb8"/>
<rect x="338.47" y="245.24" width="5.43" height="5.51" fill="#888aaa"/>
<rect x="343.30" y="245.24" width="5.43" height="5.51" fill="#999996"/>
<rect x="348.13" y="245.24" width="5.43" height="5.51" fill="#a4a386"/>
<rect x="352.95" y="245.24" width="5.43" height="5.51" fill="#999996"/>
<rect x="357.78" y="245.24" width="5.43" height="5.51" fill="#c6c25b"/>
<rect x="362.61" y="245.24" width="5.43" height="5.51" fill="#999996"/>
<rect x="367.44" y="245.24" width="5.43" height="5.51" fill="#999996"/>
<rect x="372.26" y="245.24" width="5.43" height="5.51" fill="#b6b46c"/>
<rect x="377.09" y="245.24" width="5.43" height="5.51" fill="#999996"/>
<rect x="381.92" y="245.24" width="5.43" height="5.51" fill="#a4a386"/>
<rect x="386.75" y="245.24" width="5.43" height="5.51" fill="#999996"/>
<rect x="391.57" y="245.24" width="5.43" height="5.51" fill="#c6c25b"/>
<rect x="396.40" y="245.24" width="5.43" height="5.51" fill="#4c58b0"/>
<rect x="401.23" y="245.24" width="5.43" height="5.51" fill="#8486ae"/>
<rect x="406.05" y="245.24" width="5.43" height="5.51" fill="#b6b46c"/>
<rect x="410.88" y="245.24" width="5.43" height="5.51" fill="#9292a0"/>
<rect x="415.71" y="245.24" width="5.43" height="5.51" fill="#9292a0"/>
<rect x="420.54" y="245.24" width="5.43" height="5.51" fill="#9292a0"/>
<rect x="425.36" y="245.24" width="5.43" height="5.51" fill="#9292a0"/>
<rect x="430.19" y="245.24" width="5.43" height="5.51" fill="#6169b6"/>
<rect x="435.02" y="245.24" width="5.43" height="5.51" fill="#a4a386"/>
<rect x="439.85" y="245.24" width="5.43" height="5.51" fill="#a4a386"/>
<rect x="444.67" y="245.24" width="5.43" height="5.51" fill="#9292a0"/>
<rect x="290.20" y="250.15" width="5.43" height="5.51" fill="#888aaa"/>
<rect x="295.03" y="250.15" width="5.43" height="5.51" fill="#7a7eb8"/>
<rect x="299.85" y="250.15" width="5.43" height="5.51" fill="#999996"/>
<rect x="304.68" y="250.15" width="5.43" height="5.51" fill="#7a7eb8"/>
<rect x="309.51" y="250.15" width="5.43" height="5.51" fill="#888aaa"/>
<rect x="314.34" y="250.15" width="5.43" height="5.51" fill="#767abc"/>
<rect x="319.16" y="250.15" width="5.43" height="5.51" fill="#888aaa"/>
<rect x="323.99" y="250.15" width="5.43" height="5.51" fill="#7a7eb8"/>
<rect x="328.82" y="250.15" width="5.43" height="5.51" fill="#888aaa"/>
<rect x="333.65" y="250.15" width="5.43" height="5.51" fill="#767abc"/>
<rect x="338.47" y="250.15" width="5.43" height="5.51" fill="#767abc"/>
<rect x="343.30" y="250.15" width="5.43" height="5.51" fill="#8486ae"/>
<rect x="348.13" y="250.15" width="5.43" height="5.51" fill="#767abc"/>
<rect x="352.95" y="250.15" width="5.43" height="5.51" fill="#b6b46c"/>
<rect x="357.78" y="250.15" width="5.43" height="5.51" fill="#b6b46c"/>
<rect x="362.61" y="250.15" width="5.43" height="5.51" fill="#b6b46c"/>
<rect x="367.44" y="250.15" width="5.43" height="5.51" fill="#c6c25b"/>
<rect x="372.26" y="250.15" width="5.43" height="5.51" fill="#767abc"/>
<rect x="377.09" y="250.15" width="5.43" height="5.51" fill="#767abc"/>
<rect x="381.92" y="250.15" width="5.43" height="5.51" fill="#767abc"/>
<rect x="386.75" y="250.15" width="5.43" height="5.51" fill="#c6c25b"/>
<rect x="391.57" y="250.15" width="5.43" height="5.51" fill="#8486ae"/>
<rect x="396.40" y="250.15" width="5.43" height="5.51" fill="#767abc"/>
<rect x="401.23" y="250.15" width="5.43" height="5.51" fill="#8486ae"/>
<rect x="406.05" y="250.15" width="5.43" height="5.51" fill="#9292a0"/>
<rect x="410.88" y="250.15" width="5.43" height="5.51" fill="#9292a0"/>
<rect x="415.71" y="250.15" width="5.43" height="5.51" fill="#afad76"/>
<rect x="420.54" y="250.15" width="5.43" height="5.51" fill="#9292a0"/>
<rect x="425.36" y="250.15" width="5.43" height="5.51" fill="#a4a386"/>
<rect x="430.19" y="250.15" width="5.43" height="5.51" fill="#767abc"/>
<rect x="435.02" y="250.15" width="5.43" height="5.51" fill="#b6b46c"/>
<rect x="439.85" y="250.15" width="5.43" height="5.51" fill="#9292a0"/>
<rect x="444.67" y="250.15" width="5.43" height="5.51" fill="#a4a386"/>
<rect x="290.20" y="255.05" width="5.43" height="5.51" fill="#888aaa"/>
<rect x="295.03" y="255.05" width="5.43" height="5.51" fill="#767abc"/>
<rect x="299.85" y="255.05" width="5.43" height="5.51" fill="#767abc"/>
<rect x="304.68" y="255.05" width="5.43" height="5.51" fill="#888aaa"/>
<rect x="309.51" y="255.05" width="5.43" height="5.51" fill="#767abc"/>
<rect x="314.34" y="255.05" width="5.43" height="5.51" fill="#888aaa"/>
<rect x="319.16" y="255.05" width="5.43" height="5.51" fill="#888aaa"/>
<rect x="323.99" y="255.05" width="5.43" height="5.51" fill="#888aaa"/>
<rect x="328.82" y="255.05" width="5.43" height="5.51" fill="#b6b46c"/>
<rect x="333.65" y="255.05" width="5.43" height="5.51" fill="#888aaa"/>
<rect x="338.47" y="255.05" width="5.43" height="5.51" fill="#767abc"/>
<rect x="343.30" y="255.05" width="5.43" height="5.51" fill="#999996"/>
<rect x="348.13" y="255.05" width="5.43" height="5.51" fill="#8486ae"/>
<rect x="352.95" y="255.05" width="5.43" height="5.51" fill="#b6b46c"/>
<rect x="357.78" y="255.05" width="5.43" height="5.51" fill="#b6b46c"/>
<rect x="362.61" y="255.05" width="5.43" height="5.51" fill="#b6b46c"/>
<rect x="367.44" y="255.05" width="5.43" height="5.51" fill="#999996"/>
<rect x="372.26" y="255.05" width="5.43" height="5.51" fill="#999996"/>
<rect x="377.09" y="255.05" width="5.43" height="5.51" fill="#a4a386"/>
<rect x="381.92" y="255.05" width="5.43" height="5.51" fill="#999996"/>
<rect x="386.75" y="255.05" width="5.43" height="5.51" fill="#767abc"/>
<rect x="391.57" y="255.05" width="5.43" height="5.51" fill="#999996"/>
<rect x="396.40" y="255.05" width="5.43" height="5.51" fill="#767abc"/>
<rect x="401.23" y="255.05" width="5.43" height="5.51" fill="#9292a0"/>
<rect x="406.05" y="255.05" width="5.43" height="5.51" fill="#9292a0"/>
<rect x="410.88" y="255.05" width="5.43" height="5.51" fill="#9292a0"/>
<rect x="415.71" y="255.05" width="5.43" height="5.51" fill="#a4a386"/>
<rect x="420.54" y="255.05" width="5.43" height="5.51" fill="#a4a386"/>
<rect x="425.36" y="255.05" width="5.43" height="5.51" fill="#7e81b4"/>
<rect x="430.19" y="255.05" width="5.43" height="5.51" fill="#d6d04a"/>
<rect x="435.02" y="255.05" width="5.43" height="5.51" fill="#a4a386"/>
<rect x="439.85" y="255.05" width="5.43" height="5.51" fill="#767abc"/>
<rect x="444.67" y="255.05" width="5.43" height="5.51" fill="#9292a0"/>
<rect x="290.20" y="259.96" width="5.43" height="5.51" fill="#767abc"/>
<rect x="295.03" y="259.96" width="5.43" height="5.51" fill="#888aaa"/>
<rect x="299.85" y="259.96" width="5.43" height="5.51" fill="#888aaa"/>
<rect x="304.68" y="259.96" width="5.43" height="5.51" fill="#767abc"/>
<rect x="309.51" y="259.96" width="5.43" height="5.51" fill="#888aaa"/>
<rect x="314.34" y="259.96" width="5.43" height="5.51" fill="#767abc"/>
<rect x="319.16" y="259.96" width="5.43" height="5.51" fill="#888aaa"/>
<rect x="323.99" y="259.96" width="5.43" height="5.51" fill="#7a7eb8"/>
<rect x="328.82" y="259.96" width="5.43" height="5.51" fill="#888aaa"/>
<rect x="333.65" y="259.96" width="5.43" height="5.51" fill="#999996"/>
<rect x="338.47" y="259.96" width="5.43" height="5.51" fill="#888aaa"/>
<rect x="343.30" y="259.96" width="5.43" height="5.51" fill="#767abc"/>
<rect x="348.13" y="259.96" width="5.43" height="5.51" fill="#767abc"/>
<rect x="352.95" y="259.96" width="5.43" height="5.51" fill="#999996"/>
<rect x="357.78" y="259.96" width="5.43" height="5.51" fill="#999996"/>
<rect x="362.61" y="259.96" width="5.43" height="5.51" fill="#a4a386"/>
<rect x="367.44" y="259.96" width="5.43" height="5.51" fill="#999996"/>
<rect x="372.26" y="259.96" width="5.43" height="5.51" fill="#8486ae"/>
<rect x="377.09" y="259.96" width="5.43" height="5.51" fill="#999996"/>
<rect x="381.92" y="259.96" width="5.43" height="5.51" fill="#999996"/>
<rect x="386.75" y="259.96" width="5.43" height="5.51" fill="#d6d04a"/>
<rect x="391.57" y="259.96" width="5.43" height="5.51" fill="#c0bc62"/>
<rect x="396.40" y="259.96" width="5.43" height="5.51" fill="#d0ca51"/>
<rect x="401.23" y="259.96" width="5.43" height="5.51" fill="#767abc"/>
<rect x="406.05" y="259.96" width="5.43" height="5.51" fill="#afad76"/>
<rect x="410.88" y="259.96" width="5.43" height="5.51" fill="#c0bc62"/>
<rect x="415.71" y="259.96" width="5.43" height="5.51" fill="#9292a0"/>
<rect x="420.54" y="259.96" width="5.43" height="5.51" fill="#9292a0"/>
<rect x="425.36" y="259.96" width="5.43" height="5.51" fill="#a4a386"/>
<rect x="430.19" y="259.96" width="5.43" height="5.51" fill="#767abc"/>
<rect x="435.02" y="259.96" width="5.43" height="5.51" fill="#a4a386"/>
<rect x="439.85" y="259.96" width="5.43" height="5.51" fill="#999996"/>
<rect x="444.67" y="259.96" width="5.43" height="5.51" fill="#a4a386"/>
<rect x="290.20" y="264.87" width="5.43" height="5.51" fill="#7a7eb8"/>
<rect x="295.03" y="264.87" width="5.43" height="5.51" fill="#767abc"/>
<rect x="299.85" y="264.87" width="5.43" height="5.51" fill="#767abc"/>
<rect x="304.68" y="264.87" width="5.43" height="5.51" fill="#767abc"/>
<rect x="309.51" y="264.87" width="5.43" height="5.51" fill="#767abc"/>
<rect x="314.34" y="264.87" width="5.43" height="5.51" fill="#7075ba"/>
<rect x="319.16" y="264.87" width="5.43" height="5.51" fill="#888aaa"/>
<rect x="323.99" y="264.87" width="5.43" height="5.51" fill="#888aaa"/>
<rect x="328.82" y="264.87" width="5.43" height="5.51" fill="#999996"/>
<rect x="333.65" y="264.87" width="5.43" height="5.51" fill="#999996"/>
<rect x="338.47" y="264.87" width="5.43" height="5.51" fill="#888aaa"/>
<rect x="343.30" y="264.87" width="5.43" height="5.51" fill="#999996"/>
<rect x="348.13" y="264.87" width="5.43" height="5.51" fill="#7c7fb6"/>
<rect x="352.95" y="264.87" width="5.43" height="5.51" fill="#6e73ba"/>
<rect x="357.78" y="264.87" width="5.43" height="5.51" fill="#a4a386"/>
<rect x="362.61" y="264.87" width="5.43" height="5.51" fill="#999996"/>
<rect x="367.44" y="264.87" width="5.43" height="5.51" fill="#999996"/>
<rect x="372.26" y="264.87" width="5.43" height="5.51" fill="#999996"/>
<rect x="377.09" y="264.87" width="5.43" height="5.51" fill="#999996"/>
<rect x="381.92" y="264.87" width="5.43" height="5.51" fill="#999996"/>
<rect x="386.75" y="264.87" width="5.43" height="5.51" fill="#d0ca51"/>
<rect x="391.57" y="264.87" width="5.43" height="5.51" fill="#b9b769"/>
<rect x="396.40" y="264.87" width="5.43" height="5.51" fill="#d0ca51"/>
<rect x="401.23" y="264.87" width="5.43" height="5.51" fill="#b9b769"/>
<rect x="406.05" y="264.87" width="5.43" height="5.51" fill="#d0ca51"/>
<rect x="410.88" y="264.87" width="5.43" height="5.51" fill="#c0bc62"/>
<rect x="415.71" y="264.87" width="5.43" height="5.51" fill="#9292a0"/>
<rect x="420.54" y="264.87" width="5.43" height="5.51" fill="#9292a0"/>
<rect x="425.36" y="264.87" width="5.43" height="5.51" fill="#767abc"/>
<rect x="430.19" y="264.87" width="5.43" height="5.51" fill="#999996"/>
<rect x="435.02" y="264.87" width="5.43" height="5.51" fill="#6e73ba"/>
<rect x="439.85" y="264.87" width="5.43" height="5.51" fill="#a4a386"/>
<rect x="444.67" y="264.87" width="5.43" height="5.51" fill="#999996"/>
<rect x="290.20" y="269.77" width="5.43" height="5.51" fill="#7a7eb8"/>
<rect x="295.03" y="269.77" width="5.43" height="5.51" fill="#767abc"/>
<rect x="299.85" y="269.77" width="5.43" height="5.51" fill="#888aaa"/>
<rect x="304.68" y="269.77" width="5.43" height="5.51" fill="#7a7eb8"/>
<rect x="309.51" y="269.77" width="5.43" height="5.51" fill="#767abc"/>
<rect x="314.34" y="269.77" width="5.43" height="5.51" fill="#7a7eb8"/>
<rect x="319.16" y="269.77" width="5.43" height="5.51" fill="#888aaa"/>
<rect x="323.99" y="269.77" width="5.43" height="5.51" fill="#888aaa"/>
<rect x="328.82" y="269.77" width="5.43" height="5.51" fill="#7a7eb8"/>
<rect x="333.65" y="269.77" width="5.43" height="5.51" fill="#999996"/>
<rect x="338.47" y="269.77" width="5.43" height="5.51" fill="#767abc"/>
<rect x="343.30" y="269.77" width="5.43" height="5.51" fill="#7c7fb6"/>
<rect x="348.13" y="269.77" width="5.43" height="5.51" fill="#7c7fb6"/>
<rect x="352.95" y="269.77" width="5.43" height="5.51" fill="#999996"/>
<rect x="357.78" y="269.77" width="5.43" height="5.51" fill="#b6b46c"/>
<rect x="362.61" y="269.77" width="5.43" height="5.51" fill="#8486ae"/>
<rect x="367.44" y="269.77" width="5.43" height="5.51" fill="#bcba65"/>
<rect x="372.26" y="269.77" width="5.43" height="5.51" fill="#999996"/>
<rect x="377.09" y="269.77" width="5.43" height="5.51" fill="#7c7fb6"/>
<rect x="381.92" y="269.77" width="5.43" height="5.51" fill="#999996"/>
<rect x="386.75" y="269.77" width="5.43" height="5.51" fill="#c6c25b"/>
<rect x="391.57" y="269.77" width="5.43" height="5.51" fill="#c0bc62"/>
<rect x="396.40" y="269.77" width="5.43" height="5.51" fill="#c0bc62"/>
<rect x="401.23" y="269.77" width="5.43" height="5.51" fill="#b9b769"/>
<rect x="406.05" y="269.77" width="5.43" height="5.51" fill="#c0bc62"/>
<rect x="410.88" y="269.77" width="5.43" height="5.51" fill="#c0bc62"/>
<rect x="415.71" y="269.77" width="5.43" height="5.51" fill="#9292a0"/>
<rect x="420.54" y="269.77" width="5.43" height="5.51" fill="#8486ae"/>
<rect x="425.36" y="269.77" width="5.43" height="5.51" fill="#a4a386"/>
<rect x="430.19" y="269.77" width="5.43" height="5.51" fill="#a4a386"/>
<rect x="435.02" y="269.77" width="5.43" height="5.51" fill="#8486ae"/>
<rect x="439.85" y="269.77" width="5.43" height="5.51" fill="#999996"/>
<rect x="444.67" y="269.77" width="5.43" height="5.51" fill="#999996"/>
<rect x="290.20" y="274.68" width="5.43" height="5.51" fill="#767abc"/>
<rect x="295.03" y="274.68" width="5.43" height="5.51" fill="#7a7eb8"/>
<rect x="299.85" y="274.68" width="5.43" height="5.51" fill="#8385af"/>
<rect x="304.68" y="274.68" width="5.43" height="5.51" fill="#7a7eb8"/>
<rect x="309.51" y="274.68" width="5.43" height="5.51" fill="#7a7eb8"/>
<rect x="314.34" y="274.68" width="5.43" height="5.51" fill="#7a7eb8"/>
<rect x="319.16" y="274.68" width="5.43" height="5.51" fill="#7a7eb8"/>
<rect x="323.99" y="274.68" width="5.43" height="5.51" fill="#8385af"/>
<rect x="328.82" y="274.68" width="5.43" height="5.51" fill="#888aaa"/>
<rect x="333.65" y="274.68" width="5.43" height="5.51" fill="#888aaa"/>
<rect x="338.47" y="274.68" width="5.43" height="5.51" fill="#767abc"/>
<rect x="343.30" y="274.68" width="5.43" height="5.51" fill="#7c7fb6"/>
<rect x="348.13" y="274.68" width="5.43" height="5.51" fill="#7c7fb6"/>
<rect x="352.95" y="274.68" width="5.43" height="5.51" fill="#8486ae"/>
<rect x="357.78" y="274.68" width="5.43" height="5.51" fill="#999996"/>
<rect x="362.61" y="274.68" width="5.43" height="5.51" fill="#8486ae"/>
<rect x="367.44" y="274.68" width="5.43" height="5.51" fill="#999996"/>
<rect x="372.26" y="274.68" width="5.43" height="5.51" fill="#999996"/>
<rect x="377.09" y="274.68" width="5.43" height="5.51" fill="#999996"/>
<rect x="381.92" y="274.68" width="5.43" height="5.51" fill="#999996"/>
<rect x="386.75" y="274.68" width="5.43" height="5.51" fill="#c6c25b"/>
<rect x="391.57" y="274.68" width="5.43" height="5.51" fill="#c0bc62"/>
<rect x="396.40" y="274.68" width="5.43" height="5.51" fill="#c0bc62"/>
<rect x="401.23" y="274.68" width="5.43" height="5.51" fill="#b9b769"/>
<rect x="406.05" y="274.68" width="5.43" height="5.51" fill="#c0bc62"/>
<rect x="410.88" y="274.68" width="5.43" height="5.51" fill="#c0bc62"/>
<rect x="415.71" y="274.68" width="5.43" height="5.51" fill="#b9b769"/>
<rect x="420.54" y="274.68" width="5.43" height="5.51" fill="#b9b769"/>
<rect x="425.36" y="274.68" width="5.43" height="5.51" fill="#afad76"/>
<rect x="430.19" y="274.68" width="5.43" height="5.51" fill="#afad76"/>
<rect x="435.02" y="274.68" width="5.43" height="5.51" fill="#999996"/>
<rect x="439.85" y="274.68" width="5.43" height="5.51" fill="#afad76"/>
<rect x="444.67" y="274.68" width="5.43" height="5.51" fill="#a4a386"/>
<rect x="290.20" y="279.59" width="5.43" height="5.51" fill="#888aaa"/>
<rect x="295.03" y="279.59" width="5.43" height="5.51" fill="#7a7eb8"/>
<rect x="299.85" y="279.59" width="5.43" height="5.51" fill="#7075ba"/>
<rect x="304.68" y="279.59" width="5.43" height="5.51" fill="#7075ba"/>
<rect x="309.51" y="279.59" width="5.43" height="5.51" fill="#7075ba"/>
<rect x="314.34" y="279.59" width="5.43" height="5.51" fill="#7075ba"/>
<rect x="319.16" y="279.59" width="5.43" height="5.51" fill="#7a7eb8"/>
<rect x="323.99" y="279.59" width="5.43" height="5.51" fill="#888aaa"/>
<rect x="328.82" y="279.59" width="5.43" height="5.51" fill="#999996"/>
<rect x="333.65" y="279.59" width="5.43" height="5.51" fill="#999996"/>
<rect x="338.47" y="279.59" width="5.43" height="5.51" fill="#7075ba"/>
<rect x="343.30" y="279.59" width="5.43" height="5.51" fill="#8486ae"/>
<rect x="348.13" y="279.59" width="5.43" height="5.51" fill="#999996"/>
<rect x="352.95" y="279.59" width="5.43" height="5.51" fill="#999996"/>
<rect x="357.78" y="279.59" width="5.43" height="5.51" fill="#a4a386"/>
<rect x="362.61" y="279.59" width="5.43" height="5.51" fill="#7c7fb6"/>
<rect x="367.44" y="279.59" width="5.43" height="5.51" fill="#999996"/>
<rect x="372.26" y="279.59" width="5.43" height="5.51" fill="#999996"/>
<rect x="377.09" y="279.59" width="5.43" height="5.51" fill="#999996"/>
<rect x="381.92" y="279.59" width="5.43" height="5.51" fill="#999996"/>
<rect x="386.75" y="279.59" width="5.43" height="5.51" fill="#d0ca51"/>
<rect x="391.57" y="279.59" width="5.43" height="5.51" fill="#c0bc62"/>
<rect x="396.40" y="279.59" width="5.43" height="5.51" fill="#c6c25b"/>
<rect x="401.23" y="279.59" width="5.43" height="5.51" fill="#c6c25b"/>
<rect x="406.05" y="279.59" width="5.43" height="5.51" fill="#b9b769"/>
<rect x="410.88" y="279.59" width="5.43" height="5.51" fill="#c0bc62"/>
<rect x="415.71" y="279.59" width="5.43" height="5.51" fill="#afad76"/>
<rect x="420.54" y="279.59" width="5.43" height="5.51" fill="#9292a0"/>
<rect x="425.36" y="279.59" width="5.43" height="5.51" fill="#8486ae"/>
<rect x="430.19" y="279.59" width="5.43" height="5.51" fill="#8a8ba8"/>
<rect x="435.02" y="279.59" width="5.43" height="5.51" fill="#8a8ba8"/>
<rect x="439.85" y="279.59" width="5.43" height="5.51" fill="#afad76"/>
<rect x="444.67" y="279.59" width="5.43" height="5.51" fill="#a4a386"/>
<rect x="290.20" y="284.49" width="5.43" height="5.51" fill="#6e73ba"/>
<rect x="295.03" y="284.49" width="5.43" height="5.51" fill="#888aaa"/>
<rect x="299.85" y="284.49" width="5.43" height="5.51" fill="#7075ba"/>
<rect x="304.68" y="284.49" width="5.43" height="5.51" fill="#888aaa"/>
<rect x="309.51" y="284.49" width="5.43" height="5.51" fill="#7075ba"/>
<rect x="314.34" y="284.49" width="5.43" height="5.51" fill="#7a7eb8"/>
<rect x="319.16" y="284.49" width="5.43" height="5.51" fill="#6e73ba"/>
<rect x="323.99" y="284.49" width="5.43" height="5.51" fill="#7a7eb8"/>
<rect x="328.82" y="284.49" width="5.43" height="5.51" fill="#888aaa"/>
<rect x="333.65" y="284.49" width="5.43" height="5.51" fill="#888aaa"/>
<rect x="338.47" y="284.49" width="5.43" height="5.51" fill="#888aaa"/>
<rect x="343.30" y="284.49" width="5.43" height="5.51" fill="#8486ae"/>
<rect x="348.13" y="284.49" width="5.43" height="5.51" fill="#999996"/>
<rect x="352.95" y="284.49" width="5.43" height="5.51" fill="#999996"/>
<rect x="357.78" y="284.49" width="5.43" height="5.51" fill="#8486ae"/>
<rect x="362.61" y="284.49" width="5.43" height="5.51" fill="#999996"/>
<rect x="367.44" y="284.49" width="5.43" height="5.51" fill="#999996"/>
<rect x="372.26" y="284.49" width="5.43" height="5.51" fill="#8486ae"/>
<rect x="377.09" y="284.49" width="5.43" height="5.51" fill="#999996"/>
<rect x="381.92" y="284.49" width="5.43" height="5.51" fill="#7c7fb6"/>
<rect x="386.75" y="284.49" width="5.43" height="5.51" fill="#afad76"/>
<rect x="391.57" y="284.49" width="5.43" height="5.51" fill="#b9b769"/>
<rect x="396.40" y="284.49" width="5.43" height="5.51" fill="#afad76"/>
<rect x="401.23" y="284.49" width="5.43" height="5.51" fill="#b9b769"/>
<rect x="406.05" y="284.49" width="5.43" height="5.51" fill="#b9b769"/>
<rect x="410.88" y="284.49" width="5.43" height="5.51" fill="#b9b769"/>
<rect x="415.71" y="284.49" width="5.43" height="5.51" fill="#afad76"/>
<rect x="420.54" y="284.49" width="5.43" height="5.51" fill="#c6c25b"/>
<rect x="425.36" y="284.49" width="5.43" height="5.51" fill="#999996"/>
<rect x="430.19" y="284.49" width="5.43" height="5.51" fill="#bcba65"/>
<rect x="435.02" y="284.49" width="5.43" height="5.51" fill="#a4a386"/>
<rect x="439.85" y="284.49" width="5.43" height="5.51" fill="#a4a386"/>
<rect x="444.67" y="284.49" width="5.43" height="5.51" fill="#afad76"/>
<rect x="290.20" y="289.40" width="5.43" height="5.51" fill="#6e73ba"/>
<rect x="295.03" y="289.40" width="5.43" height="5.51" fill="#888aaa"/>
<rect x="299.85" y="289.40" width="5.43" height="5.51" fill="#7075ba"/>
<rect x="304.68" y="289.40" width="5.43" height="5.51" fill="#888aaa"/>
<rect x="309.51" y="289.40" width="5.43" height="5.51" fill="#7075ba"/>
<rect x="314.34" y="289.40" width="5.43" height="5.51" fill="#7a7eb8"/>
<rect x="319.16" y="289.40" width="5.43" height="5.51" fill="#656cb7"/>
<rect x="323.99" y="289.40" width="5.43" height="5.51" fill="#999996"/>
<rect x="328.82" y="289.40" width="5.43" height="5.51" fill="#999996"/>
<rect x="333.65" y="289.40" width="5.43" height="5.51" fill="#999996"/>
<rect x="338.47" y="289.40" width="5.43" height="5.51" fill="#7075ba"/>
<rect x="343.30" y="289.40" width="5.43" height="5.51" fill="#8486ae"/>
<rect x="348.13" y="289.40" width="5.43" height="5.51" fill="#999996"/>
<rect x="352.95" y="289.40" width="5.43" height="5.51" fill="#999996"/>
<rect x="357.78" y="289.40" width="5.43" height="5.51" fill="#999996"/>
<rect x="362.61" y="289.40" width="5.43" height="5.51" fill="#999996"/>
<rect x="367.44" y="289.40" width="5.43" height="5.51" fill="#a4a386"/>
<rect x="372.26" y="289.40" width="5.43" height="5.51" fill="#999996"/>
<rect x="377.09" y="289.40" width="5.43" height="5.51" fill="#8486ae"/>
<rect x="381.92" y="289.40" width="5.43" height="5.51" fill="#8486ae"/>
<rect x="386.75" y="289.40" width="5.43" height="5.51" fill="#d6d04a"/>
<rect x="391.57" y="289.40" width="5.43" height="5.51" fill="#afad76"/>
<rect x="396.40" y="289.40" width="5.43" height="5.51" fill="#c6c25b"/>
<rect x="401.23" y="289.40" width="5.43" height="5.51" fill="#b9b769"/>
<rect x="406.05" y="289.40" width="5.43" height="5.51" fill="#d6d04a"/>
<rect x="410.88" y="289.40" width="5.43" height="5.51" fill="#b9b769"/>
<rect x="415.71" y="289.40" width="5.43" height="5.51" fill="#7c7fb6"/>
<rect x="420.54" y="289.40" width="5.43" height="5.51" fill="#999996"/>
<rect x="425.36" y="289.40" width="5.43" height="5.51" fill="#999996"/>
<rect x="430.19" y="289.40" width="5.43" height="5.51" fill="#afad76"/>
<rect x="435.02" y="289.40" width="5.43" height="5.51" fill="#a4a386"/>
<rect x="439.85" y="289.40" width="5.43" height="5.51" fill="#a4a386"/>
<rect x="444.67" y="289.40" width="5.43" height="5.51" fill="#a4a386"/>
<rect x="290.20" y="294.31" width="5.43" height="5.51" fill="#7075ba"/>
<rect x="295.03" y="294.31" width="5.43" height="5.51" fill="#7075ba"/>
<rect x="299.85" y="294.31" width="5.43" height="5.51" fill="#8385af"/>
<rect x="304.68" y="294.31" width="5.43" height="5.51" fill="#6e73ba"/>
<rect x="309.51" y="294.31" width="5.43" height="5.51" fill="#888aaa"/>
<rect x="314.34" y="294.31" width="5.43" height="5.51" fill="#767abc"/>
<rect x="319.16" y="294.31" width="5.43" height="5.51" fill="#888aaa"/>
<rect x="323.99" y="294.31" width="5.43" height="5.51" fill="#888aaa"/>
<rect x="328.82" y="294.31" width="5.43" height="5.51" fill="#b6b46c"/>
<rect x="333.65" y="294.31" width="5.43" height="5.51" fill="#767abc"/>
<rect x="338.47" y="294.31" width="5.43" height="5.51" fill="#888aaa"/>
<rect x="343.30" y="294.31" width="5.43" height="5.51" fill="#8486ae"/>
<rect x="348.13" y="294.31" width="5.43" height="5.51" fill="#b6b46c"/>
<rect x="352.95" y="294.31" width="5.43" height="5.51" fill="#6e73ba"/>
<rect x="357.78" y="294.31" width="5.43" height="5.51" fill="#bcba65"/>
<rect x="362.61" y="294.31" width="5.43" height="5.51" fill="#999996"/>
<rect x="367.44" y="294.31" width="5.43" height="5.51" fill="#a0a08b"/>
<rect x="372.26" y="294.31" width="5.43" height="5.51" fill="#767abc"/>
<rect x="377.09" y="294.31" width="5.43" height="5.51" fill="#a4a386"/>
<rect x="381.92" y="294.31" width="5.43" height="5.51" fill="#999996"/>
<rect x="386.75" y="294.31" width="5.43" height="5.51" fill="#a0a08b"/>
<rect x="391.57" y="294.31" width="5.43" height="5.51" fill="#a0a08b"/>
<rect x="396.40" y="294.31" width="5.43" height="5.51" fill="#b9b769"/>
<rect x="401.23" y="294.31" width="5.43" height="5.51" fill="#afad76"/>
<rect x="406.05" y="294.31" width="5.43" height="5.51" fill="#8486ae"/>
<rect x="410.88" y="294.31" width="5.43" height="5.51" fill="#8486ae"/>
<rect x="415.71" y="294.31" width="5.43" height="5.51" fill="#b9b769"/>
<rect x="420.54" y="294.31" width="5.43" height="5.51" fill="#afad76"/>
<rect x="425.36" y="294.31" width="5.43" height="5.51" fill="#a4a386"/>
<rect x="430.19" y="294.31" width="5.43" height="5.51" fill="#a4a386"/>
<rect x="435.02" y="294.31" width="5.43" height="5.51" fill="#a4a386"/>
<rect x="439.85" y="294.31" width="5.43" height="5.51" fill="#bcba65"/>
<rect x="444.67" y="294.31" width="5.43" height="5.51" fill="#a4a386"/>
<rect x="290.20" y="299.21" width="5.43" height="5.51" fill="#8385af"/>
<rect x="295.03" y="299.21" width="5.43" height="5.51" fill="#7a7eb8"/>
<rect x="299.85" y="299.21" width="5.43" height="5.51" fill="#7a7eb8"/>
<rect x="304.68" y="299.21" width="5.43" height="5.51" fill="#7a7eb8"/>
<rect x="309.51" y="299.21" width="5.43" height="5.51" fill="#5962b4"/>
<rect x="314.34" y="299.21" width="5.43" height="5.51" fill="#888aaa"/>
<rect x="319.16" y="299.21" width="5.43" height="5.51" fill="#7075ba"/>
<rect x="323.99" y="299.21" width="5.43" height="5.51" fill="#7a7eb8"/>
<rect x="328.82" y="299.21" width="5.43" height="5.51" fill="#7a7eb8"/>
<rect x="333.65" y="299.21" width="5.43" height="5.51" fill="#7a7eb8"/>
<rect x="338.47" y="299.21" width="5.43" height="5.51" fill="#c6c25b"/>
<rect x="343.30" y="299.21" width="5.43" height="5.51" fill="#7c7fb6"/>
<rect x="348.13" y="299.21" width="5.43" height="5.51" fill="#b6b46c"/>
<rect x="352.95" y="299.21" width="5.43" height="5.51" fill="#999996"/>
<rect x="357.78" y="299.21" width="5.43" height="5.51" fill="#999996"/>
<rect x="362.61" y="299.21" width="5.43" height="5.51" fill="#a0a08b"/>
<rect x="367.44" y="299.21" width="5.43" height="5.51" fill="#afad76"/>
<rect x="372.26" y="299.21" width="5.43" height="5.51" fill="#999996"/>
<rect x="377.09" y="299.21" width="5.43" height="5.51" fill="#999996"/>
<rect x="381.92" y="299.21" width="5.43" height="5.51" fill="#999996"/>
<rect x="386.75" y="299.21" width="5.43" height="5.51" fill="#afad76"/>
<rect x="391.57" y="299.21" width="5.43" height="5.51" fill="#7c7fb6"/>
<rect x="396.40" y="299.21" width="5.43" height="5.51" fill="#b9b769"/>
<rect x="401.23" y="299.21" width="5.43" height="5.51" fill="#999996"/>
<rect x="406.05" y="299.21" width="5.43" height="5.51" fill="#8486ae"/>
<rect x="410.88" y="299.21" width="5.43" height="5.51" fill="#b9b769"/>
<rect x="415.71" y="299.21" width="5.43" height="5.51" fill="#b9b769"/>
<rect x="420.54" y="299.21" width="5.43" height="5.51" fill="#999996"/>
<rect x="425.36" y="299.21" width="5.43" height="5.51" fill="#8a8ba8"/>
<rect x="430.19" y="299.21" width="5.43" height="5.51" fill="#c6c25b"/>
<rect x="435.02" y="299.21" width="5.43" height="5.51" fill="#c6c25b"/>
<rect x="439.85" y="299.21" width="5.43" height="5.51" fill="#7c7fb6"/>
<rect x="444.67" y="299.21" width="5.43" height="5.51" fill="#999996"/>
<rect x="290.20" y="304.12" width="5.43" height="5.51" fill="#7a7eb8"/>
<rect x="295.03" y="304.12" width="5.43" height="5.51" fill="#7075ba"/>
<rect x="299.85" y="304.12" width="5.43" height="5.51" fill="#7075ba"/>
<rect x="304.68" y="304.12" width="5.43" height="5.51" fill="#888aaa"/>
<rect x="309.51" y="304.12" width="5.43" height="5.51" fill="#7a7eb8"/>
<rect x="314.34" y="304.12" width="5.43" height="5.51" fill="#7075ba"/>
<rect x="319.16" y="304.12" width="5.43" height="5.51" fill="#7a7eb8"/>
<rect x="323.99" y="304.12" width="5.43" height="5.51" fill="#9191a1"/>
<rect x="328.82" y="304.12" width="5.43" height="5.51" fill="#9191a1"/>
<rect x="333.65" y="304.12" width="5.43" height="5.51" fill="#6e73ba"/>
<rect x="338.47" y="304.12" width="5.43" height="5.51" fill="#888aaa"/>
<rect x="343.30" y="304.12" width="5.43" height="5.51" fill="#8486ae"/>
<rect x="348.13" y="304.12" width="5.43" height="5.51" fill="#999996"/>
<rect x="352.95" y="304.12" width="5.43" height="5.51" fill="#999996"/>
<rect x="357.78" y="304.12" width="5.43" height="5.51" fill="#999996"/>
<rect x="362.61" y="304.12" width="5.43" height="5.51" fill="#999996"/>
<rect x="367.44" y="304.12" width="5.43" height="5.51" fill="#999996"/>
<rect x="372.26" y="304.12" width="5.43" height="5.51" fill="#999996"/>
<rect x="377.09" y="304.12" width="5.43" height="5.51" fill="#999996"/>
<rect x="381.92" y="304.12" width="5.43" height="5.51" fill="#7c7fb6"/>
<rect x="386.75" y="304.12" width="5.43" height="5.51" fill="#b9b769"/>
<rect x="391.57" y="304.12" width="5.43" height="5.51" fill="#c6c25b"/>
<rect x="396.40" y="304.12" width="5.43" height="5.51" fill="#afad76"/>
<rect x="401.23" y="304.12" width="5.43" height="5.51" fill="#b9b769"/>
<rect x="406.05" y="304.12" width="5.43" height="5.51" fill="#8486ae"/>
<rect x="410.88" y="304.12" width="5.43" height="5.51" fill="#b9b769"/>
<rect x="415.71" y="304.12" width="5.43" height="5.51" fill="#b9b769"/>
<rect x="420.54" y="304.12" width="5.43" height="5.51" fill="#999996"/>
<rect x="425.36" y="304.12" width="5.43" height="5.51" fill="#a4a386"/>
<rect x="430.19" y="304.12" width="5.43" height="5.51" fill="#afad76"/>
<rect x="435.02" y="304.12" width="5.43" height="5.51" fill="#b6b46c"/>
<rect x="439.85" y="304.12" width="5.43" height="5.51" fill="#a4a386"/>
<rect x="444.67" y="304.12" width="5.43" height="5.51" fill="#999996"/>
<rect x="290.20" y="309.03" width="5.43" height="5.51" fill="#767abc"/>
<rect x="295.03" y="309.03" width="5.43" height="5.51" fill="#888aaa"/>
<rect x="299.85" y="309.03" width="5.43" height="5.51" fill="#7075ba"/>
<rect x="304.68" y="309.03" width="5.43" height="5.51" fill="#7a7eb8"/>
<rect x="309.51" y="309.03" width="5.43" height="5.51" fill="#7a7eb8"/>
<rect x="314.34" y="309.03" width="5.43" height="5.51" fill="#7a7eb8"/>
<rect x="319.16" y="309.03" width="5.43" height="5.51" fill="#7a7eb8"/>
<rect x="323.99" y="309.03" width="5.43" height="5.51" fill="#9191a1"/>
<rect x="328.82" y="309.03" width="5.43" height="5.51" fill="#7075ba"/>
<rect x="333.65" y="309.03" width="5.43" height="5.51" fill="#6e73ba"/>
<rect x="338.47" y="309.03" width="5.43" height="5.51" fill="#888aaa"/>
<rect x="343.30" y="309.03" width="5.43" height="5.51" fill="#999996"/>
<rect x="348.13" y="309.03" width="5.43" height="5.51" fill="#afad76"/>
<rect x="352.95" y="309.03" width="5.43" height="5.51" fill="#a4a386"/>
<rect x="357.78" y="309.03" width="5.43" height="5.51" fill="#7c7fb6"/>
<rect x="362.61" y="309.03" width="5.43" height="5.51" fill="#8486ae"/>
<rect x="367.44" y="309.03" width="5.43" height="5.51" fill="#999996"/>
<rect x="372.26" y="309.03" width="5.43" height="5.51" fill="#8486ae"/>
<rect x="377.09" y="309.03" width="5.43" height="5.51" fill="#a4a386"/>
<rect x="381.92" y="309.03" width="5.43" height="5.51" fill="#999996"/>
<rect x="386.75" y="309.03" width="5.43" height="5.51" fill="#b9b769"/>
<rect x="391.57" y="309.03" width="5.43" height="5.51" fill="#afad76"/>
<rect x="396.40" y="309.03" width="5.43" height="5.51" fill="#b9b769"/>
<rect x="401.23" y="309.03" width="5.43" height="5.51" fill="#b9b769"/>
<rect x="406.05" y="309.03" width="5.43" height="5.51" fill="#b9b769"/>
<rect x="410.88" y="309.03" width="5.43" height="5.51" fill="#afad76"/>
<rect x="415.71" y="309.03" width="5.43" height="5.51" fill="#999996"/>
<rect x="420.54" y="309.03" width="5.43" height="5.51" fill="#b9b769"/>
<rect x="425.36" y="309.03" width="5.43" height="5.51" fill="#a4a386"/>
<rect x="430.19" y="309.03" width="5.43" height="5.51" fill="#b6b46c"/>
<rect x="435.02" y="309.03" width="5.43" height="5.51" fill="#afad76"/>
<rect x="439.85" y="309.03" width="5.43" height="5.51" fill="#afad76"/>
<rect x="444.67" y="309.03" width="5.43" height="5.51" fill="#a4a386"/>
<rect x="290.20" y="313.93" width="5.43" height="5.51" fill="#7075ba"/>
<rect x="295.03" y="313.93" width="5.43" height="5.51" fill="#7a7eb8"/>
<rect x="299.85" y="313.93" width="5.43" height="5.51" fill="#7a7eb8"/>
<rect x="304.68" y="313.93" width="5.43" height="5.51" fill="#8385af"/>
<rect x="309.51" y="313.93" width="5.43" height="5.51" fill="#8385af"/>
<rect x="314.34" y="313.93" width="5.43" height="5.51" fill="#8385af"/>
<rect x="319.16" y="313.93" width="5.43" height="5.51" fill="#8385af"/>
<rect x="323.99" y="313.93" width="5.43" height="5.51" fill="#7a7eb8"/>
<rect x="328.82" y="313.93" width="5.43" height="5.51" fill="#8385af"/>
<rect x="333.65" y="313.93" width="5.43" height="5.51" fill="#6169b6"/>
<rect x="338.47" y="313.93" width="5.43" height="5.51" fill="#b6b46c"/>
<rect x="343.30" y="313.93" width="5.43" height="5.51" fill="#afad76"/>
<rect x="348.13" y="313.93" width="5.43" height="5.51" fill="#c0bc62"/>
<rect x="352.95" y="313.93" width="5.43" height="5.51" fill="#767abc"/>
<rect x="357.78" y="313.93" width="5.43" height="5.51" fill="#a4a386"/>
<rect x="362.61" y="313.93" width="5.43" height="5.51" fill="#a0a08b"/>
<rect x="367.44" y="313.93" width="5.43" height="5.51" fill="#a4a386"/>
<rect x="372.26" y="313.93" width="5.43" height="5.51" fill="#999996"/>
<rect x="377.09" y="313.93" width="5.43" height="5.51" fill="#bcba65"/>
<rect x="381.92" y="313.93" width="5.43" height="5.51" fill="#a4a386"/>
<rect x="386.75" y="313.93" width="5.43" height="5.51" fill="#8a8ba8"/>
<rect x="391.57" y="313.93" width="5.43" height="5.51" fill="#b9b769"/>
<rect x="396.40" y="313.93" width="5.43" height="5.51" fill="#b9b769"/>
<rect x="401.23" y="313.93" width="5.43" height="5.51" fill="#b9b769"/>
<rect x="406.05" y="313.93" width="5.43" height="5.51" fill="#afad76"/>
<rect x="410.88" y="313.93" width="5.43" height="5.51" fill="#999996"/>
<rect x="415.71" y="313.93" width="5.43" height="5.51" fill="#999996"/>
<rect x="420.54" y="313.93" width="5.43" height="5.51" fill="#b9b769"/>
<rect x="425.36" y="313.93" width="5.43" height="5.51" fill="#8c8da6"/>
<rect x="430.19" y="313.93" width="5.43" height="5.51" fill="#8c8da6"/>
<rect x="435.02" y="313.93" width="5.43" height="5.51" fill="#9292a0"/>
<rect x="439.85" y="313.93" width="5.43" height="5.51" fill="#999996"/>
<rect x="444.67" y="313.93" width="5.43" height="5.51" fill="#999996"/>
<rect x="290.20" y="318.84" width="5.43" height="5.51" fill="#7075ba"/>
<rect x="295.03" y="318.84" width="5.43" height="5.51" fill="#7a7eb8"/>
<rect x="299.85" y="318.84" width="5.43" height="5.51" fill="#767abc"/>
<rect x="304.68" y="318.84" width="5.43" height="5.51" fill="#8385af"/>
<rect x="309.51" y="318.84" width="5.43" height="5.51" fill="#7075ba"/>
<rect x="314.34" y="318.84" width="5.43" height="5.51" fill="#7075ba"/>
<rect x="319.16" y="318.84" width="5.43" height="5.51" fill="#7075ba"/>
<rect x="323.99" y="318.84" width="5.43" height="5.51" fill="#8385af"/>
<rect x="328.82" y="318.84" width="5.43" height="5.51" fill="#888aaa"/>
<rect x="333.65" y="318.84" width="5.43" height="5.51" fill="#6e73ba"/>
<rect x="338.47" y="318.84" width="5.43" height="5.51" fill="#888aaa"/>
<rect x="343.30" y="318.84" width="5.43" height="5.51" fill="#a0a08b"/>
<rect x="348.13" y="318.84" width="5.43" height="5.51" fill="#afad76"/>
<rect x="352.95" y="318.84" width="5.43" height="5.51" fill="#767abc"/>
<rect x="357.78" y="318.84" width="5.43" height="5.51" fill="#a4a386"/>
<rect x="362.61" y="318.84" width="5.43" height="5.51" fill="#7c7fb6"/>
<rect x="367.44" y="318.84" width="5.43" height="5.51" fill="#afad76"/>
<rect x="372.26" y="318.84" width="5.43" height="5.51" fill="#999996"/>
<rect x="377.09" y="318.84" width="5.43" height="5.51" fill="#b6b46c"/>
<rect x="381.92" y="318.84" width="5.43" height="5.51" fill="#7c7fb6"/>
<rect x="386.75" y="318.84" width="5.43" height="5.51" fill="#b6b46c"/>
<rect x="391.57" y="318.84" width="5.43" height="5.51" fill="#afad76"/>
<rect x="396.40" y="318.84" width="5.43" height="5.51" fill="#afad76"/>
<rect x="401.23" y="318.84" width="5.43" height="5.51" fill="#a4a386"/>
<rect x="406.05" y="318.84" width="5.43" height="5.51" fill="#a4a386"/>
<rect x="410.88" y="318.84" width="5.43" height="5.51" fill="#a4a386"/>
<rect x="415.71" y="318.84" width="5.43" height="5.51" fill="#a4a386"/>
<rect x="420.54" y="318.84" width="5.43" height="5.51" fill="#c6c25b"/>
<rect x="425.36" y="318.84" width="5.43" height="5.51" fill="#999996"/>
<rect x="430.19" y="318.84" width="5.43" height="5.51" fill="#7e81b4"/>
<rect x="435.02" y="318.84" width="5.43" height="5.51" fill="#999996"/>
<rect x="439.85" y="318.84" width="5.43" height="5.51" fill="#999996"/>
<rect x="444.67" y="318.84" width="5.43" height="5.51" fill="#9292a0"/>
<rect x="290.20" y="323.75" width="5.43" height="5.51" fill="#7a7eb8"/>
<rect x="295.03" y="323.75" width="5.43" height="5.51" fill="#8e8ea4"/>
<rect x="299.85" y="323.75" width="5.43" height="5.51" fill="#7075ba"/>
<rect x="304.68" y="323.75" width="5.43" height="5.51" fill="#7a7eb8"/>
<rect x="309.51" y="323.75" width="5.43" height="5.51" fill="#767abc"/>
<rect x="314.34" y="323.75" width="5.43" height="5.51" fill="#767abc"/>
<rect x="319.16" y="323.75" width="5.43" height="5.51" fill="#767abc"/>
<rect x="323.99" y="323.75" width="5.43" height="5.51" fill="#999996"/>
<rect x="328.82" y="323.75" width="5.43" height="5.51" fill="#999996"/>
<rect x="333.65" y="323.75" width="5.43" height="5.51" fill="#7075ba"/>
<rect x="338.47" y="323.75" width="5.43" height="5.51" fill="#6e73ba"/>
<rect x="343.30" y="323.75" width="5.43" height="5.51" fill="#a0a08b"/>
<rect x="348.13" y="323.75" width="5.43" height="5.51" fill="#a4a386"/>
<rect x="352.95" y="323.75" width="5.43" height="5.51" fill="#767abc"/>
<rect x="357.78" y="323.75" width="5.43" height="5.51" fill="#a4a386"/>
<rect x="362.61" y="323.75" width="5.43" height="5.51" fill="#a0a08b"/>
<rect x="367.44" y="323.75" width="5.43" height="5.51" fill="#afad76"/>
<rect x="372.26" y="323.75" width="5.43" height="5.51" fill="#999996"/>
<rect x="377.09" y="323.75" width="5.43" height="5.51" fill="#a4a386"/>
<rect x="381.92" y="323.75" width="5.43" height="5.51" fill="#999996"/>
<rect x="386.75" y="323.75" width="5.43" height="5.51" fill="#c6c25b"/>
<rect x="391.57" y="323.75" width="5.43" height="5.51" fill="#a0a08b"/>
<rect x="396.40" y="323.75" width="5.43" height="5.51" fill="#afad76"/>
<rect x="401.23" y="323.75" width="5.43" height="5.51" fill="#afad76"/>
<rect x="406.05" y="323.75" width="5.43" height="5.51" fill="#999996"/>
<rect x="410.88" y="323.75" width="5.43" height="5.51" fill="#999996"/>
<rect x="415.71" y="323.75" width="5.43" height="5.51" fill="#8c8da6"/>
<rect x="420.54" y="323.75" width="5.43" height="5.51" fill="#a4a386"/>
<rect x="425.36" y="323.75" width="5.43" height="5.51" fill="#8a8ba8"/>
<rect x="430.19" y="323.75" width="5.43" height="5.51" fill="#b6b46c"/>
<rect x="435.02" y="323.75" width="5.43" height="5.51" fill="#7e81b4"/>
<rect x="439.85" y="323.75" width="5.43" height="5.51" fill="#999996"/>
<rect x="444.67" y="323.75" width="5.43" height="5.51" fill="#999996"/>
<rect x="290.20" y="328.65" width="5.43" height="5.51" fill="#6e73ba"/>
<rect x="295.03" y="328.65" width="5.43" height="5.51" fill="#8385af"/>
<rect x="299.85" y="328.65" width="5.43" height="5.51" fill="#7075ba"/>
<rect x="304.68" y="328.65" width="5.43" height="5.51" fill="#7a7eb8"/>
<rect x="309.51" y="328.65" width="5.43" height="5.51" fill="#767abc"/>
<rect x="314.34" y="328.65" width="5.43" height="5.51" fill="#767abc"/>
<rect x="319.16" y="328.65" width="5.43" height="5.51" fill="#767abc"/>
<rect x="323.99" y="328.65" width="5.43" height="5.51" fill="#999996"/>
<rect x="328.82" y="328.65" width="5.43" height="5.51" fill="#8385af"/>
<rect x="333.65" y="328.65" width="5.43" height="5.51" fill="#7075ba"/>
<rect x="338.47" y="328.65" width="5.43" height="5.51" fill="#999996"/>
<rect x="343.30" y="328.65" width="5.43" height="5.51" fill="#a0a08b"/>
<rect x="348.13" y="328.65" width="5.43" height="5.51" fill="#b6b46c"/>
<rect x="352.95" y="328.65" width="5.43" height="5.51" fill="#999996"/>
<rect x="357.78" y="328.65" width="5.43" height="5.51" fill="#8486ae"/>
<rect x="362.61" y="328.65" width="5.43" height="5.51" fill="#a0a08b"/>
<rect x="367.44" y="328.65" width="5.43" height="5.51" fill="#a4a386"/>
<rect x="372.26" y="328.65" width="5.43" height="5.51" fill="#a4a386"/>
<rect x="377.09" y="328.65" width="5.43" height="5.51" fill="#c3bf5e"/>
<rect x="381.92" y="328.65" width="5.43" height="5.51" fill="#999996"/>
<rect x="386.75" y="328.65" width="5.43" height="5.51" fill="#c3bf5e"/>
<rect x="391.57" y="328.65" width="5.43" height="5.51" fill="#8a8ba8"/>
<rect x="396.40" y="328.65" width="5.43" height="5.51" fill="#afad76"/>
<rect x="401.23" y="328.65" width="5.43" height="5.51" fill="#afad76"/>
<rect x="406.05" y="328.65" width="5.43" height="5.51" fill="#bcba65"/>
<rect x="410.88" y="328.65" width="5.43" height="5.51" fill="#a4a386"/>
<rect x="415.71" y="328.65" width="5.43" height="5.51" fill="#7e81b4"/>
<rect x="420.54" y="328.65" width="5.43" height="5.51" fill="#8a8ba8"/>
<rect x="425.36" y="328.65" width="5.43" height="5.51" fill="#a4a386"/>
<rect x="430.19" y="328.65" width="5.43" height="5.51" fill="#999996"/>
<rect x="435.02" y="328.65" width="5.43" height="5.51" fill="#7c7fb6"/>
<rect x="439.85" y="328.65" width="5.43" height="5.51" fill="#999996"/>
<rect x="444.67" y="328.65" width="5.43" height="5.51" fill="#999996"/>
<rect x="290.20" y="333.56" width="5.43" height="5.51" fill="#767abc"/>
<rect x="295.03" y="333.56" width="5.43" height="5.51" fill="#8385af"/>
<rect x="299.85" y="333.56" width="5.43" height="5.51" fill="#7075ba"/>
<rect x="304.68" y="333.56" width="5.43" height="5.51" fill="#7a7eb8"/>
<rect x="309.51" y="333.56" width="5.43" height="5.51" fill="#767abc"/>
<rect x="314.34" y="333.56" width="5.43" height="5.51" fill="#7075ba"/>
<rect x="319.16" y="333.56" width="5.43" height="5.51" fill="#6169b6"/>
<rect x="323.99" y="333.56" width="5.43" height="5.51" fill="#7a7eb8"/>
<rect x="328.82" y="333.56" width="5.43" height="5.51" fill="#8385af"/>
<rect x="333.65" y="333.56" width="5.43" height="5.51" fill="#7075ba"/>
<rect x="338.47" y="333.56" width="5.43" height="5.51" fill="#8385af"/>
<rect x="343.30" y="333.56" width="5.43" height="5.51" fill="#a0a08b"/>
<rect x="348.13" y="333.56" width="5.43" height="5.51" fill="#afad76"/>
<rect x="352.95" y="333.56" width="5.43" height="5.51" fill="#8486ae"/>
<rect x="357.78" y="333.56" width="5.43" height="5.51" fill="#8a8ba8"/>
<rect x="362.61" y="333.56" width="5.43" height="5.51" fill="#6e73ba"/>
<rect x="367.44" y="333.56" width="5.43" height="5.51" fill="#a4a386"/>
<rect x="372.26" y="333.56" width="5.43" height="5.51" fill="#a0a08b"/>
<rect x="377.09" y="333.56" width="5.43" height="5.51" fill="#a4a386"/>
<rect x="381.92" y="333.56" width="5.43" height="5.51" fill="#7c7fb6"/>
<rect x="386.75" y="333.56" width="5.43" height="5.51" fill="#a0a08b"/>
<rect x="391.57" y="333.56" width="5.43" height="5.51" fill="#afad76"/>
<rect x="396.40" y="333.56" width="5.43" height="5.51" fill="#b6b46c"/>
<rect x="401.23" y="333.56" width="5.43" height="5.51" fill="#afad76"/>
<rect x="406.05" y="333.56" width="5.43" height="5.51" fill="#a4a386"/>
<rect x="410.88" y="333.56" width="5.43" height="5.51" fill="#afad76"/>
<rect x="415.71" y="333.56" width="5.43" height="5.51" fill="#8c8da6"/>
<rect x="420.54" y="333.56" width="5.43" height="5.51" fill="#a4a386"/>
<rect x="425.36" y="333.56" width="5.43" height="5.51" fill="#a4a386"/>
<rect x="430.19" y="333.56" width="5.43" height="5.51" fill="#afad76"/>
<rect x="435.02" y="333.56" width="5.43" height="5.51" fill="#999996"/>
<rect x="439.85" y="333.56" width="5.43" height="5.51" fill="#afad76"/>
<rect x="444.67" y="333.56" width="5.43" height="5.51" fill="#a4a386"/>
<rect x="290.20" y="338.47" width="5.43" height="5.51" fill="#7a7eb8"/>
<rect x="295.03" y="338.47" width="5.43" height="5.51" fill="#767abc"/>
<rect x="299.85" y="338.47" width="5.43" height="5.51" fill="#7a7eb8"/>
<rect x="304.68" y="338.47" width="5.43" height="5.51" fill="#7075ba"/>
<rect x="309.51" y="338.47" width="5.43" height="5.51" fill="#767abc"/>
<rect x="314.34" y="338.47" width="5.43" height="5.51" fill="#7a7eb8"/>
<rect x="319.16" y="338.47" width="5.43" height="5.51" fill="#7a7eb8"/>
<rect x="323.99" y="338.47" width="5.43" height="5.51" fill="#7075ba"/>
<rect x="328.82" y="338.47" width="5.43" height="5.51" fill="#9191a1"/>
<rect x="333.65" y="338.47" width="5.43" height="5.51" fill="#b6b46c"/>
<rect x="338.47" y="338.47" width="5.43" height="5.51" fill="#767abc"/>
<rect x="343.30" y="338.47" width="5.43" height="5.51" fill="#767abc"/>
<rect x="348.13" y="338.47" width="5.43" height="5.51" fill="#999996"/>
<rect x="352.95" y="338.47" width="5.43" height="5.51" fill="#8a8ba8"/>
<rect x="357.78" y="338.47" width="5.43" height="5.51" fill="#c0bc62"/>
<rect x="362.61" y="338.47" width="5.43" height="5.51" fill="#999996"/>
<rect x="367.44" y="338.47" width="5.43" height="5.51" fill="#999996"/>
<rect x="372.26" y="338.47" width="5.43" height="5.51" fill="#a4a386"/>
<rect x="377.09" y="338.47" width="5.43" height="5.51" fill="#afad76"/>
<rect x="381.92" y="338.47" width="5.43" height="5.51" fill="#a4a386"/>
<rect x="386.75" y="338.47" width="5.43" height="5.51" fill="#a0a08b"/>
<rect x="391.57" y="338.47" width="5.43" height="5.51" fill="#a0a08b"/>
<rect x="396.40" y="338.47" width="5.43" height="5.51" fill="#7e81b4"/>
<rect x="401.23" y="338.47" width="5.43" height="5.51" fill="#c6c25b"/>
<rect x="406.05" y="338.47" width="5.43" height="5.51" fill="#7e81b4"/>
<rect x="410.88" y="338.47" width="5.43" height="5.51" fill="#c3bf5e"/>
<rect x="415.71" y="338.47" width="5.43" height="5.51" fill="#999996"/>
<rect x="420.54" y="338.47" width="5.43" height="5.51" fill="#8c8da6"/>
<rect x="425.36" y="338.47" width="5.43" height="5.51" fill="#a4a386"/>
<rect x="430.19" y="338.47" width="5.43" height="5.51" fill="#afad76"/>
<rect x="435.02" y="338.47" width="5.43" height="5.51" fill="#8a8ba8"/>
<rect x="439.85" y="338.47" width="5.43" height="5.51" fill="#a4a386"/>
<rect x="444.67" y="338.47" width="5.43" height="5.51" fill="#a4a386"/>
<rect x="290.20" y="343.37" width="5.43" height="5.51" fill="#7a7eb8"/>
<rect x="295.03" y="343.37" width="5.43" height="5.51" fill="#6e73ba"/>
<rect x="299.85" y="343.37" width="5.43" height="5.51" fill="#6e73ba"/>
<rect x="304.68" y="343.37" width="5.43" height="5.51" fill="#6e73ba"/>
<rect x="309.51" y="343.37" width="5.43" height="5.51" fill="#8385af"/>
<rect x="314.34" y="343.37" width="5.43" height="5.51" fill="#767abc"/>
<rect x="319.16" y="343.37" width="5.43" height="5.51" fill="#7a7eb8"/>
<rect x="323.99" y="343.37" width="5.43" height="5.51" fill="#8385af"/>
<rect x="328.82" y="343.37" width="5.43" height="5.51" fill="#8385af"/>
<rect x="333.65" y="343.37" width="5.43" height="5.51" fill="#8e8ea4"/>
<rect x="338.47" y="343.37" width="5.43" height="5.51" fill="#8385af"/>
<rect x="343.30" y="343.37" width="5.43" height="5.51" fill="#a0a08b"/>
<rect x="348.13" y="343.37" width="5.43" height="5.51" fill="#a0a08b"/>
<rect x="352.95" y="343.37" width="5.43" height="5.51" fill="#a0a08b"/>
<rect x="357.78" y="343.37" width="5.43" height="5.51" fill="#999996"/>
<rect x="362.61" y="343.37" width="5.43" height="5.51" fill="#999996"/>
<rect x="367.44" y="343.37" width="5.43" height="5.51" fill="#8a8ba8"/>
<rect x="372.26" y="343.37" width="5.43" height="5.51" fill="#a4a386"/>
<rect x="377.09" y="343.37" width="5.43" height="5.51" fill="#a0a08b"/>
<rect x="381.92" y="343.37" width="5.43" height="5.51" fill="#8a8ba8"/>
<rect x="386.75" y="343.37" width="5.43" height="5.51" fill="#a4a386"/>
<rect x="391.57" y="343.37" width="5.43" height="5.51" fill="#c0bc62"/>
<rect x="396.40" y="343.37" width="5.43" height="5.51" fill="#8c8da6"/>
<rect x="401.23" y="343.37" width="5.43" height="5.51" fill="#a4a386"/>
<rect x="406.05" y="343.37" width="5.43" height="5.51" fill="#999996"/>
<rect x="410.88" y="343.37" width="5.43" height="5.51" fill="#8c8da6"/>
<rect x="415.71" y="343.37" width="5.43" height="5.51" fill="#999996"/>
<rect x="420.54" y="343.37" width="5.43" height="5.51" fill="#999996"/>
<rect x="425.36" y="343.37" width="5.43" height="5.51" fill="#c6c25b"/>
<rect x="430.19" y="343.37" width="5.43" height="5.51" fill="#999996"/>
<rect x="435.02" y="343.37" width="5.43" height="5.51" fill="#afad76"/>
<rect x="439.85" y="343.37" width="5.43" height="5.51" fill="#a4a386"/>
<rect x="444.67" y="343.37" width="5.43" height="5.51" fill="#afad76"/>
<rect x="290.20" y="348.28" width="5.43" height="5.51" fill="#7a7eb8"/>
<rect x="295.03" y="348.28" width="5.43" height="5.51" fill="#7a7eb8"/>
<rect x="299.85" y="348.28" width="5.43" height="5.51" fill="#7a7eb8"/>
<rect x="304.68" y="348.28" width="5.43" height="5.51" fill="#7075ba"/>
<rect x="309.51" y="348.28" width="5.43" height="5.51" fill="#7075ba"/>
<rect x="314.34" y="348.28" width="5.43" height="5.51" fill="#7075ba"/>
<rect x="319.16" y="348.28" width="5.43" height="5.51" fill="#8385af"/>
<rect x="323.99" y="348.28" width="5.43" height="5.51" fill="#8e8ea4"/>
<rect x="328.82" y="348.28" width="5.43" height="5.51" fill="#8e8ea4"/>
<rect x="333.65" y="348.28" width="5.43" height="5.51" fill="#8385af"/>
<rect x="338.47" y="348.28" width="5.43" height="5.51" fill="#8385af"/>
<rect x="343.30" y="348.28" width="5.43" height="5.51" fill="#999996"/>
<rect x="348.13" y="348.28" width="5.43" height="5.51" fill="#8a8ba8"/>
<rect x="352.95" y="348.28" width="5.43" height="5.51" fill="#8a8ba8"/>
<rect x="357.78" y="348.28" width="5.43" height="5.51" fill="#c0bc62"/>
<rect x="362.61" y="348.28" width="5.43" height="5.51" fill="#6e73ba"/>
<rect x="367.44" y="348.28" width="5.43" height="5.51" fill="#8a8ba8"/>
<rect x="372.26" y="348.28" width="5.43" height="5.51" fill="#a0a08b"/>
<rect x="377.09" y="348.28" width="5.43" height="5.51" fill="#a4a386"/>
<rect x="381.92" y="348.28" width="5.43" height="5.51" fill="#afad76"/>
<rect x="386.75" y="348.28" width="5.43" height="5.51" fill="#a0a08b"/>
<rect x="391.57" y="348.28" width="5.43" height="5.51" fill="#a4a386"/>
<rect x="396.40" y="348.28" width="5.43" height="5.51" fill="#8c8da6"/>
<rect x="401.23" y="348.28" width="5.43" height="5.51" fill="#bcba65"/>
<rect x="406.05" y="348.28" width="5.43" height="5.51" fill="#a4a386"/>
<rect x="410.88" y="348.28" width="5.43" height="5.51" fill="#999996"/>
<rect x="415.71" y="348.28" width="5.43" height="5.51" fill="#c6c25b"/>
<rect x="420.54" y="348.28" width="5.43" height="5.51" fill="#b6b46c"/>
<rect x="425.36" y="348.28" width="5.43" height="5.51" fill="#6169b6"/>
<rect x="430.19" y="348.28" width="5.43" height="5.51" fill="#7e81b4"/>
<rect x="435.02" y="348.28" width="5.43" height="5.51" fill="#999996"/>
<rect x="439.85" y="348.28" width="5.43" height="5.51" fill="#999996"/>
<rect x="444.67" y="348.28" width="5.43" height="5.51" fill="#a4a386"/>
<rect x="290.20" y="353.19" width="5.43" height="5.51" fill="#7a7eb8"/>
<rect x="295.03" y="353.19" width="5.43" height="5.51" fill="#7a7eb8"/>
<rect x="299.85" y="353.19" width="5.43" height="5.51" fill="#7a7eb8"/>
<rect x="304.68" y="353.19" width="5.43" height="5.51" fill="#767abc"/>
<rect x="309.51" y="353.19" width="5.43" height="5.51" fill="#767abc"/>
<rect x="314.34" y="353.19" width="5.43" height="5.51" fill="#8385af"/>
<rect x="319.16" y="353.19" width="5.43" height="5.51" fill="#8385af"/>
<rect x="323.99" y="353.19" width="5.43" height="5.51" fill="#8e8ea4"/>
<rect x="328.82" y="353.19" width="5.43" height="5.51" fill="#8385af"/>
<rect x="333.65" y="353.19" width="5.43" height="5.51" fill="#7a7eb8"/>
<rect x="338.47" y="353.19" width="5.43" height="5.51" fill="#6e73ba"/>
<rect x="343.30" y="353.19" width="5.43" height="5.51" fill="#a0a08b"/>
<rect x="348.13" y="353.19" width="5.43" height="5.51" fill="#c3bf5e"/>
<rect x="352.95" y="353.19" width="5.43" height="5.51" fill="#999996"/>
<rect x="357.78" y="353.19" width="5.43" height="5.51" fill="#7c7fb6"/>
<rect x="362.61" y="353.19" width="5.43" height="5.51" fill="#7c7fb6"/>
<rect x="367.44" y="353.19" width="5.43" height="5.51" fill="#6e73ba"/>
<rect x="372.26" y="353.19" width="5.43" height="5.51" fill="#afad76"/>
<rect x="377.09" y="353.19" width="5.43" height="5.51" fill="#afad76"/>
<rect x="381.92" y="353.19" width="5.43" height="5.51" fill="#a4a386"/>
<rect x="386.75" y="353.19" width="5.43" height="5.51" fill="#999996"/>
<rect x="391.57" y="353.19" width="5.43" height="5.51" fill="#a4a386"/>
<rect x="396.40" y="353.19" width="5.43" height="5.51" fill="#a4a386"/>
<rect x="401.23" y="353.19" width="5.43" height="5.51" fill="#a4a386"/>
<rect x="406.05" y="353.19" width="5.43" height="5.51" fill="#afad76"/>
<rect x="410.88" y="353.19" width="5.43" height="5.51" fill="#a4a386"/>
<rect x="415.71" y="353.19" width="5.43" height="5.51" fill="#afad76"/>
<rect x="420.54" y="353.19" width="5.43" height="5.51" fill="#afad76"/>
<rect x="425.36" y="353.19" width="5.43" height="5.51" fill="#999996"/>
<rect x="430.19" y="353.19" width="5.43" height="5.51" fill="#999996"/>
<rect x="435.02" y="353.19" width="5.43" height="5.51" fill="#afad76"/>
<rect x="439.85" y="353.19" width="5.43" height="5.51" fill="#a4a386"/>
<rect x="444.67" y="353.19" width="5.43" height="5.51" fill="#999996"/>
<rect x="290.20" y="358.09" width="5.43" height="5.51" fill="#7075ba"/>
<rect x="295.03" y="358.09" width="5.43" height="5.51" fill="#7a7eb8"/>
<rect x="299.85" y="358.09" width="5.43" height="5.51" fill="#767abc"/>
<rect x="304.68" y="358.09" width="5.43" height="5.51" fill="#6e73ba"/>
<rect x="309.51" y="358.09" width="5.43" height="5.51" fill="#8385af"/>
<rect x="314.34" y="358.09" width="5.43" height="5.51" fill="#7075ba"/>
<rect x="319.16" y="358.09" width="5.43" height="5.51" fill="#8385af"/>
<rect x="323.99" y="358.09" width="5.43" height="5.51" fill="#8385af"/>
<rect x="328.82" y="358.09" width="5.43" height="5.51" fill="#8385af"/>
<rect x="333.65" y="358.09" width="5.43" height="5.51" fill="#c6c25b"/>
<rect x="338.47" y="358.09" width="5.43" height="5.51" fill="#767abc"/>
<rect x="343.30" y="358.09" width="5.43" height="5.51" fill="#afad76"/>
<rect x="348.13" y="358.09" width="5.43" height="5.51" fill="#afad76"/>
<rect x="352.95" y="358.09" width="5.43" height="5.51" fill="#8486ae"/>
<rect x="357.78" y="358.09" width="5.43" height="5.51" fill="#a0a08b"/>
<rect x="362.61" y="358.09" width="5.43" height="5.51" fill="#a0a08b"/>
<rect x="367.44" y="358.09" width="5.43" height="5.51" fill="#a0a08b"/>
<rect x="372.26" y="358.09" width="5.43" height="5.51" fill="#a4a386"/>
<rect x="377.09" y="358.09" width="5.43" height="5.51" fill="#a0a08b"/>
<rect x="381.92" y="358.09" width="5.43" height="5.51" fill="#c3bf5e"/>
<rect x="386.75" y="358.09" width="5.43" height="5.51" fill="#a0a08b"/>
<rect x="391.57" y="358.09" width="5.43" height="5.51" fill="#a0a08b"/>
<rect x="396.40" y="358.09" width="5.43" height="5.51" fill="#a4a386"/>
<rect x="401.23" y="358.09" width="5.43" height="5.51" fill="#a4a386"/>
<rect x="406.05" y="358.09" width="5.43" height="5.51" fill="#999996"/>
<rect x="410.88" y="358.09" width="5.43" height="5.51" fill="#b6b46c"/>
<rect x="415.71" y="358.09" width="5.43" height="5.51" fill="#7e81b4"/>
<rect x="420.54" y="358.09" width="5.43" height="5.51" fill="#c0bc62"/>
<rect x="425.36" y="358.09" width="5.43" height="5.51" fill="#999996"/>
<rect x="430.19" y="358.09" width="5.43" height="5.51" fill="#7c7fb6"/>
<rect x="435.02" y="358.09" width="5.43" height="5.51" fill="#999996"/>
<rect x="439.85" y="358.09" width="5.43" height="5.51" fill="#b6b46c"/>
<rect x="444.67" y="358.09" width="5.43" height="5.51" fill="#7e81b4"/>
<text x="452.00" y="220.35" font-size="6.4" fill="#151515">CD1C</text>
<text x="452.00" y="225.26" font-size="6.4" fill="#151515">SH3BP2</text>
<text x="452.00" y="230.17" font-size="6.4" fill="#151515">SLC12A7</text>
<text x="452.00" y="235.07" font-size="6.4" fill="#151515">DOK2</text>
<text x="452.00" y="239.98" font-size="6.4" fill="#151515">SYNE3</text>
<text x="452.00" y="244.89" font-size="6.4" fill="#151515">PROCA1</text>
<text x="452.00" y="249.79" font-size="6.4" fill="#151515">RP11-123C</text>
<text x="452.00" y="254.70" font-size="6.4" fill="#151515">ADGRB3</text>
<text x="452.00" y="259.61" font-size="6.4" fill="#151515">RP11-755F</text>
<text x="452.00" y="264.51" font-size="6.4" fill="#151515">SRPK3</text>
<text x="452.00" y="269.42" font-size="6.4" fill="#151515">IFI35</text>
<text x="452.00" y="274.33" font-size="6.4" fill="#151515">MX1</text>
<text x="452.00" y="279.23" font-size="6.4" fill="#151515">IRF7</text>
<text x="452.00" y="284.14" font-size="6.4" fill="#151515">SP110</text>
<text x="452.00" y="289.05" font-size="6.4" fill="#151515">PLXNB2</text>
<text x="452.00" y="293.95" font-size="6.4" fill="#151515">TRIM22</text>
<text x="452.00" y="298.86" font-size="6.4" fill="#151515">ZSWIM6</text>
<text x="452.00" y="303.77" font-size="6.4" fill="#151515">AP003774.4</text>
<text x="452.00" y="308.67" font-size="6.4" fill="#151515">FAM65A</text>
<text x="452.00" y="313.58" font-size="6.4" fill="#151515">LITAF</text>
<text x="452.00" y="318.49" font-size="6.4" fill="#151515">AHNAK</text>
<text x="452.00" y="323.39" font-size="6.4" fill="#151515">ZNF467</text>
<text x="452.00" y="328.30" font-size="6.4" fill="#151515">ATP10A</text>
<text x="452.00" y="333.21" font-size="6.4" fill="#151515">ANTXR2</text>
<text x="452.00" y="338.11" font-size="6.4" fill="#151515">FAM49A</text>
<text x="452.00" y="343.02" font-size="6.4" fill="#151515">CACNA1A</text>
<text x="452.00" y="347.93" font-size="6.4" fill="#151515">WDR26</text>
<text x="452.00" y="352.83" font-size="6.4" fill="#151515">CPPED1</text>
<text x="452.00" y="357.74" font-size="6.4" fill="#151515">GLIPR1</text>
<text x="452.00" y="362.65" font-size="6.4" fill="#151515">IFITM2</text>
<defs><linearGradient id="cb" x1="0" y1="0" x2="0" y2="1"><stop offset="0" stop-color="#e8e040"/><stop offset="0.25" stop-color="#b4ae5e"/><stop offset="0.5" stop-color="#8e8e90"/><stop offset="0.75" stop-color="#5e66b0"/><stop offset="1" stop-color="#3e4a9e"/></linearGradient><linearGradient id="pa" x1="0" y1="0" x2="0" y2="1"><stop offset="0" stop-color="#d8352a"/><stop offset="0.5" stop-color="#c82a80"/><stop offset="1" stop-color="#4a5ab0"/></linearGradient></defs>
<rect x="273.10" y="253.80" width="6.00" height="65.60" fill="url(#cb)"/>
<text x="282.20" y="257.10" font-size="6.2" fill="#151515">4</text>
<text x="282.20" y="273.10" font-size="6.2" fill="#151515">2</text>
<text x="282.20" y="288.60" font-size="6.2" fill="#151515">0</text>
<text x="281.40" y="304.70" font-size="6.2" fill="#151515">-2</text>
<text x="281.40" y="319.90" font-size="6.2" fill="#151515">-4</text>
<line x1="291.20" y1="366.50" x2="323.40" y2="366.50" stroke="#111" stroke-width="1.3"/>
<line x1="327.00" y1="366.50" x2="346.50" y2="366.50" stroke="#111" stroke-width="1.3"/>
<line x1="350.40" y1="366.50" x2="366.70" y2="366.50" stroke="#111" stroke-width="1.3"/>
<line x1="370.00" y1="366.50" x2="389.60" y2="366.50" stroke="#111" stroke-width="1.3"/>
<line x1="393.50" y1="366.50" x2="419.70" y2="366.50" stroke="#111" stroke-width="1.3"/>
<line x1="423.00" y1="366.50" x2="448.50" y2="366.50" stroke="#111" stroke-width="1.3"/>
<text x="306.90" y="375.80" font-size="6.6" text-anchor="middle" fill="#151515">Normal</text>
<text x="306.90" y="383.65" font-size="6.6" text-anchor="middle" fill="#151515">CD34+</text>
<text x="333.40" y="375.80" font-size="6.6" text-anchor="middle" fill="#151515">Blasts</text>
<text x="333.40" y="383.65" font-size="6.6" text-anchor="middle" fill="#151515">from</text>
<text x="333.40" y="391.50" font-size="6.6" text-anchor="middle" fill="#151515">AML no</text>
<text x="333.40" y="399.35" font-size="6.6" text-anchor="middle" fill="#151515">pDC</text>
<text x="333.40" y="407.20" font-size="6.6" text-anchor="middle" fill="#151515">without</text>
<text x="333.40" y="415.05" font-size="6.6" text-anchor="middle" fill="#151515">RUNX1</text>
<text x="358.60" y="375.80" font-size="6.6" text-anchor="middle" fill="#151515">Blasts</text>
<text x="358.60" y="383.65" font-size="6.6" text-anchor="middle" fill="#151515">from</text>
<text x="358.60" y="391.50" font-size="6.6" text-anchor="middle" fill="#151515">AML</text>
<text x="358.60" y="399.35" font-size="6.6" text-anchor="middle" fill="#151515">no pDC</text>
<text x="358.60" y="407.20" font-size="6.6" text-anchor="middle" fill="#151515">with</text>
<text x="358.60" y="415.05" font-size="6.6" text-anchor="middle" fill="#151515">RUNX1</text>
<text x="384.30" y="375.80" font-size="6.6" text-anchor="middle" fill="#151515">Blasts</text>
<text x="384.30" y="383.65" font-size="6.6" text-anchor="middle" fill="#151515">from</text>
<text x="384.30" y="391.50" font-size="6.6" text-anchor="middle" fill="#151515">pDC-</text>
<text x="384.30" y="399.35" font-size="6.6" text-anchor="middle" fill="#151515">AML</text>
<text x="410.00" y="375.80" font-size="6.6" text-anchor="middle" fill="#151515">pDCs</text>
<text x="410.00" y="383.65" font-size="6.6" text-anchor="middle" fill="#151515">from</text>
<text x="410.00" y="391.50" font-size="6.6" text-anchor="middle" fill="#151515">pDC-</text>
<text x="410.00" y="399.35" font-size="6.6" text-anchor="middle" fill="#151515">AML</text>
<text x="435.40" y="375.80" font-size="6.6" text-anchor="middle" fill="#151515">Normal</text>
<text x="435.40" y="383.65" font-size="6.6" text-anchor="middle" fill="#151515">pDCs</text>
<line x1="135.50" y1="450.40" x2="135.50" y2="633.40" stroke="#222" stroke-width="1.1"/>
<line x1="134.70" y1="632.50" x2="220.60" y2="632.50" stroke="#222" stroke-width="1.1"/>
<line x1="132.60" y1="460.50" x2="135.20" y2="460.50" stroke="#222" stroke-width="0.9"/>
<text x="129.20" y="459.20" font-size="6.3" text-anchor="end" textLength="35.9" lengthAdjust="spacingAndGlyphs" fill="#151515">Response to</text>
<text x="129.20" y="466.40" font-size="6.3" text-anchor="end" textLength="48.8" lengthAdjust="spacingAndGlyphs" fill="#151515">type 1 interferon</text>
<line x1="132.60" y1="478.50" x2="135.20" y2="478.50" stroke="#222" stroke-width="0.9"/>
<text x="129.20" y="477.20" font-size="6.3" text-anchor="end" textLength="49.8" lengthAdjust="spacingAndGlyphs" fill="#151515">Type 1 interferon</text>
<text x="129.20" y="484.40" font-size="6.3" text-anchor="end" textLength="52.1" lengthAdjust="spacingAndGlyphs" fill="#151515">signaling pathway</text>
<line x1="132.60" y1="496.50" x2="135.20" y2="496.50" stroke="#222" stroke-width="0.9"/>
<text x="129.20" y="495.20" font-size="6.3" text-anchor="end" textLength="50.199999999999996" lengthAdjust="spacingAndGlyphs" fill="#151515">Cellular response</text>
<text x="129.20" y="502.40" font-size="6.3" text-anchor="end" textLength="56.699999999999996" lengthAdjust="spacingAndGlyphs" fill="#151515">to type 1 interferon</text>
<line x1="132.60" y1="514.50" x2="135.20" y2="514.50" stroke="#222" stroke-width="0.9"/>
<text x="129.20" y="513.20" font-size="6.3" text-anchor="end" textLength="82.80000000000001" lengthAdjust="spacingAndGlyphs" fill="#151515">Interferon-gamma-mediated</text>
<text x="129.20" y="520.40" font-size="6.3" text-anchor="end" textLength="52.1" lengthAdjust="spacingAndGlyphs" fill="#151515">signaling pathway</text>
<line x1="132.60" y1="532.50" x2="135.20" y2="532.50" stroke="#222" stroke-width="0.9"/>
<text x="129.20" y="531.20" font-size="6.3" text-anchor="end" textLength="52.5" lengthAdjust="spacingAndGlyphs" fill="#151515">Regulation of viral</text>
<text x="129.20" y="538.40" font-size="6.3" text-anchor="end" textLength="56.199999999999996" lengthAdjust="spacingAndGlyphs" fill="#151515">genome replication</text>
<line x1="132.60" y1="550.50" x2="135.20" y2="550.50" stroke="#222" stroke-width="0.9"/>
<text x="129.20" y="549.20" font-size="6.3" text-anchor="end" textLength="57.4" lengthAdjust="spacingAndGlyphs" fill="#151515">Negative regulation</text>
<text x="129.20" y="556.40" font-size="6.3" text-anchor="end" textLength="43.5" lengthAdjust="spacingAndGlyphs" fill="#151515">of viral process</text>
<line x1="132.60" y1="568.50" x2="135.20" y2="568.50" stroke="#222" stroke-width="0.9"/>
<text x="129.20" y="567.20" font-size="6.3" text-anchor="end" textLength="57.4" lengthAdjust="spacingAndGlyphs" fill="#151515">Negative regulation</text>
<text x="129.20" y="574.40" font-size="6.3" text-anchor="end" textLength="46.5" lengthAdjust="spacingAndGlyphs" fill="#151515">of viral life cycle</text>
<line x1="132.60" y1="586.50" x2="135.20" y2="586.50" stroke="#222" stroke-width="0.9"/>
<text x="129.20" y="585.20" font-size="6.3" text-anchor="end" textLength="65.5" lengthAdjust="spacingAndGlyphs" fill="#151515">Negative regulation of</text>
<text x="129.20" y="592.40" font-size="6.3" text-anchor="end" textLength="70.5" lengthAdjust="spacingAndGlyphs" fill="#151515">viral genome replication</text>
<line x1="132.60" y1="604.50" x2="135.20" y2="604.50" stroke="#222" stroke-width="0.9"/>
<text x="129.20" y="603.20" font-size="6.3" text-anchor="end" textLength="52.5" lengthAdjust="spacingAndGlyphs" fill="#151515">Regulation of viral</text>
<text x="129.20" y="610.40" font-size="6.3" text-anchor="end" textLength="53.9" lengthAdjust="spacingAndGlyphs" fill="#151515">entry into host cell</text>
<line x1="132.60" y1="622.50" x2="135.20" y2="622.50" stroke="#222" stroke-width="0.9"/>
<text x="129.20" y="621.20" font-size="6.3" text-anchor="end" textLength="68.7" lengthAdjust="spacingAndGlyphs" fill="#151515">Antigen processing and</text>
<text x="129.20" y="628.40" font-size="6.3" text-anchor="end" textLength="88.10000000000001" lengthAdjust="spacingAndGlyphs" fill="#151515">presentation via MHC class 1b</text>
<line x1="138.50" y1="632.90" x2="138.50" y2="635.50" stroke="#222" stroke-width="0.9"/>
<text x="139.00" y="646.20" font-size="6.4" text-anchor="middle" textLength="13.2" lengthAdjust="spacingAndGlyphs" fill="#151515">0.01</text>
<line x1="159.50" y1="632.90" x2="159.50" y2="635.50" stroke="#222" stroke-width="0.9"/>
<text x="159.63" y="646.20" font-size="6.4" text-anchor="middle" textLength="13.2" lengthAdjust="spacingAndGlyphs" fill="#151515">0.02</text>
<line x1="180.50" y1="632.90" x2="180.50" y2="635.50" stroke="#222" stroke-width="0.9"/>
<text x="180.26" y="646.20" font-size="6.4" text-anchor="middle" textLength="13.2" lengthAdjust="spacingAndGlyphs" fill="#151515">0.03</text>
<line x1="200.50" y1="632.90" x2="200.50" y2="635.50" stroke="#222" stroke-width="0.9"/>
<text x="200.89" y="646.20" font-size="6.4" text-anchor="middle" textLength="13.2" lengthAdjust="spacingAndGlyphs" fill="#151515">0.04</text>
<text x="178.20" y="659.00" font-size="8.7" stroke="#151515" stroke-width="0.1" text-anchor="middle" textLength="31" lengthAdjust="spacingAndGlyphs" fill="#151515">Gene ratio</text>
<circle cx="194.70" cy="460.90" r="3.40" fill="#cf2f24"/>
<circle cx="186.20" cy="478.90" r="3.20" fill="#cf2f24"/>
<circle cx="208.80" cy="496.90" r="3.20" fill="#cf2f24"/>
<circle cx="179.90" cy="514.90" r="2.90" fill="#cf2f24"/>
<circle cx="179.90" cy="532.90" r="2.90" fill="#cf2f24"/>
<circle cx="179.90" cy="550.90" r="2.90" fill="#cf2f24"/>
<circle cx="171.80" cy="568.90" r="3.20" fill="#c42844"/>
<circle cx="167.50" cy="586.90" r="2.60" fill="#cd3026"/>
<circle cx="147.30" cy="604.90" r="1.80" fill="#c92a8e"/>
<circle cx="139.00" cy="622.90" r="1.50" fill="#2f4fae"/>
<text x="224.20" y="474.40" font-size="6.5" fill="#151515">p.adjust</text>
<rect x="223.90" y="477.70" width="10.00" height="47.20" fill="url(#pa)"/>
<line x1="233.90" y1="491.50" x2="232.00" y2="491.50" stroke="#fff" stroke-width="0.6"/>
<line x1="223.90" y1="491.50" x2="225.80" y2="491.50" stroke="#fff" stroke-width="0.6"/>
<text x="236.20" y="493.40" font-size="6.3" fill="#151515">2.5e-05</text>
<line x1="233.90" y1="503.50" x2="232.00" y2="503.50" stroke="#fff" stroke-width="0.6"/>
<line x1="223.90" y1="503.50" x2="225.80" y2="503.50" stroke="#fff" stroke-width="0.6"/>
<text x="236.20" y="505.90" font-size="6.3" fill="#151515">5.0e-05</text>
<line x1="233.90" y1="516.50" x2="232.00" y2="516.50" stroke="#fff" stroke-width="0.6"/>
<line x1="223.90" y1="516.50" x2="225.80" y2="516.50" stroke="#fff" stroke-width="0.6"/>
<text x="236.20" y="518.40" font-size="6.3" fill="#151515">7.5e-05</text>
<text x="224.70" y="532.90" font-size="6.5" fill="#151515">Count</text>
<circle cx="229.10" cy="542.10" r="1.60" fill="#000"/>
<text x="236.20" y="544.30" font-size="6.4" fill="#151515">5</text>
<circle cx="229.10" cy="549.80" r="2.20" fill="#000"/>
<text x="236.20" y="552.00" font-size="6.4" fill="#151515">10</text>
<circle cx="229.10" cy="557.90" r="2.80" fill="#000"/>
<text x="236.20" y="560.10" font-size="6.4" fill="#151515">15</text>
<circle cx="229.10" cy="566.90" r="3.60" fill="#000"/>
<text x="236.20" y="569.10" font-size="6.4" fill="#151515">20</text>
<rect x="299.50" y="450.50" width="125.00" height="34.00" fill="none" stroke="#111" stroke-width="1.2"/>
<line x1="396.50" y1="450.60" x2="396.50" y2="484.20" stroke="#111" stroke-width="1.2"/>
<text x="397.70" y="469.60" font-size="6.5" fill="#151515">IFI35</text>
<rect x="299.50" y="488.50" width="125.00" height="33.00" fill="none" stroke="#111" stroke-width="1.2"/>
<line x1="396.50" y1="488.10" x2="396.50" y2="521.20" stroke="#111" stroke-width="1.2"/>
<text x="397.70" y="506.85" font-size="6.5" fill="#151515">IFITM2</text>
<rect x="299.50" y="525.50" width="125.00" height="33.00" fill="none" stroke="#111" stroke-width="1.2"/>
<line x1="396.50" y1="525.30" x2="396.50" y2="558.70" stroke="#111" stroke-width="1.2"/>
<text x="397.70" y="544.20" font-size="6.5" fill="#151515">IRF7</text>
<rect x="299.50" y="562.50" width="125.00" height="33.00" fill="none" stroke="#111" stroke-width="1.2"/>
<line x1="396.50" y1="562.70" x2="396.50" y2="595.70" stroke="#111" stroke-width="1.2"/>
<text x="397.70" y="581.40" font-size="6.5" fill="#151515">LITAF</text>
<rect x="299.50" y="599.50" width="125.00" height="34.00" fill="none" stroke="#111" stroke-width="1.2"/>
<line x1="396.50" y1="599.70" x2="396.50" y2="633.10" stroke="#111" stroke-width="1.2"/>
<text x="397.70" y="618.60" font-size="6.5" fill="#151515">MX1</text>
<rect x="303.10" y="478.60" width="11.70" height="1.60" fill="#27467f"/>
<line x1="303.10" y1="479.50" x2="314.80" y2="479.50" stroke="#111" stroke-width="1.1"/>
<line x1="324.50" y1="473.70" x2="324.50" y2="476.20" stroke="#111" stroke-width="0.9"/>
<rect x="318.70" y="476.20" width="11.50" height="5.50" fill="#f0c020"/>
<line x1="318.70" y1="479.50" x2="330.20" y2="479.50" stroke="#111" stroke-width="1.1"/>
<rect x="334.00" y="474.80" width="11.60" height="1.60" fill="#4b1f60"/>
<line x1="334.00" y1="475.50" x2="345.60" y2="475.50" stroke="#111" stroke-width="1.1"/>
<line x1="355.50" y1="451.90" x2="355.50" y2="455.40" stroke="#111" stroke-width="0.9"/>
<line x1="355.50" y1="465.40" x2="355.50" y2="468.80" stroke="#111" stroke-width="0.9"/>
<rect x="349.90" y="455.40" width="11.60" height="10.00" fill="#e58d1d"/>
<line x1="349.90" y1="458.50" x2="361.50" y2="458.50" stroke="#111" stroke-width="1.1"/>
<line x1="370.50" y1="481.00" x2="370.50" y2="481.50" stroke="#111" stroke-width="0.9"/>
<rect x="365.10" y="481.50" width="11.80" height="1.60" fill="#64a9e0"/>
<line x1="365.10" y1="482.50" x2="376.90" y2="482.50" stroke="#111" stroke-width="1.1"/>
<line x1="386.50" y1="478.50" x2="386.50" y2="481.30" stroke="#111" stroke-width="0.9"/>
<rect x="380.90" y="474.00" width="11.70" height="4.50" fill="#a80a2e"/>
<line x1="380.90" y1="475.50" x2="392.60" y2="475.50" stroke="#111" stroke-width="1.1"/>
<line x1="308.50" y1="501.50" x2="308.50" y2="505.40" stroke="#111" stroke-width="0.9"/>
<line x1="308.50" y1="513.50" x2="308.50" y2="518.80" stroke="#111" stroke-width="0.9"/>
<rect x="303.10" y="505.40" width="11.70" height="8.10" fill="#27467f"/>
<line x1="303.10" y1="512.50" x2="314.80" y2="512.50" stroke="#111" stroke-width="1.1"/>
<line x1="324.50" y1="510.20" x2="324.50" y2="515.40" stroke="#111" stroke-width="0.9"/>
<rect x="318.70" y="506.00" width="11.50" height="4.20" fill="#f0c020"/>
<line x1="318.70" y1="507.50" x2="330.20" y2="507.50" stroke="#111" stroke-width="1.1"/>
<circle cx="324.45" cy="496.70" r="0.95" fill="#111"/>
<line x1="339.50" y1="489.60" x2="339.50" y2="496.90" stroke="#111" stroke-width="0.9"/>
<rect x="334.00" y="496.90" width="11.60" height="12.30" fill="#4b1f60"/>
<line x1="334.00" y1="504.50" x2="345.60" y2="504.50" stroke="#111" stroke-width="1.1"/>
<rect x="349.90" y="504.60" width="11.60" height="1.60" fill="#e58d1d"/>
<line x1="349.90" y1="505.50" x2="361.50" y2="505.50" stroke="#111" stroke-width="1.1"/>
<circle cx="355.70" cy="497.20" r="0.95" fill="#111"/>
<circle cx="355.70" cy="509.00" r="0.95" fill="#111"/>
<line x1="370.50" y1="518.10" x2="370.50" y2="519.40" stroke="#111" stroke-width="0.9"/>
<rect x="365.10" y="516.50" width="11.80" height="1.60" fill="#64a9e0"/>
<line x1="365.10" y1="517.50" x2="376.90" y2="517.50" stroke="#111" stroke-width="1.1"/>
<line x1="386.50" y1="491.00" x2="386.50" y2="503.50" stroke="#111" stroke-width="0.9"/>
<line x1="386.50" y1="513.10" x2="386.50" y2="515.60" stroke="#111" stroke-width="0.9"/>
<rect x="380.90" y="503.50" width="11.70" height="9.60" fill="#a80a2e"/>
<line x1="380.90" y1="508.50" x2="392.60" y2="508.50" stroke="#111" stroke-width="1.1"/>
<rect x="303.10" y="556.90" width="11.70" height="1.60" fill="#27467f"/>
<line x1="303.10" y1="557.50" x2="314.80" y2="557.50" stroke="#111" stroke-width="1.1"/>
<rect x="318.70" y="556.90" width="11.50" height="1.60" fill="#f0c020"/>
<line x1="318.70" y1="557.50" x2="330.20" y2="557.50" stroke="#111" stroke-width="1.1"/>
<rect x="334.00" y="555.60" width="11.60" height="1.60" fill="#4b1f60"/>
<line x1="334.00" y1="556.50" x2="345.60" y2="556.50" stroke="#111" stroke-width="1.1"/>
<line x1="355.50" y1="527.40" x2="355.50" y2="530.20" stroke="#111" stroke-width="0.9"/>
<line x1="355.50" y1="533.10" x2="355.50" y2="535.20" stroke="#111" stroke-width="0.9"/>
<rect x="349.90" y="530.20" width="11.60" height="2.90" fill="#e58d1d"/>
<line x1="349.90" y1="531.50" x2="361.50" y2="531.50" stroke="#111" stroke-width="1.1"/>
<rect x="365.10" y="556.60" width="11.80" height="1.60" fill="#64a9e0"/>
<line x1="365.10" y1="557.50" x2="376.90" y2="557.50" stroke="#111" stroke-width="1.1"/>
<line x1="386.50" y1="545.00" x2="386.50" y2="546.00" stroke="#111" stroke-width="0.9"/>
<rect x="380.90" y="546.00" width="11.70" height="2.40" fill="#a80a2e"/>
<line x1="380.90" y1="547.50" x2="392.60" y2="547.50" stroke="#111" stroke-width="1.1"/>
<circle cx="386.75" cy="552.80" r="0.95" fill="#111"/>
<line x1="308.50" y1="584.50" x2="308.50" y2="586.20" stroke="#111" stroke-width="0.9"/>
<line x1="308.50" y1="593.00" x2="308.50" y2="594.00" stroke="#111" stroke-width="0.9"/>
<rect x="303.10" y="586.20" width="11.70" height="6.80" fill="#27467f"/>
<line x1="303.10" y1="589.50" x2="314.80" y2="589.50" stroke="#111" stroke-width="1.1"/>
<line x1="324.50" y1="576.70" x2="324.50" y2="578.40" stroke="#111" stroke-width="0.9"/>
<line x1="324.50" y1="590.40" x2="324.50" y2="591.90" stroke="#111" stroke-width="0.9"/>
<rect x="318.70" y="578.40" width="11.50" height="12.00" fill="#f0c020"/>
<line x1="318.70" y1="584.50" x2="330.20" y2="584.50" stroke="#111" stroke-width="1.1"/>
<line x1="339.50" y1="576.00" x2="339.50" y2="582.00" stroke="#111" stroke-width="0.9"/>
<line x1="339.50" y1="586.60" x2="339.50" y2="588.80" stroke="#111" stroke-width="0.9"/>
<rect x="334.00" y="582.00" width="11.60" height="4.60" fill="#4b1f60"/>
<line x1="334.00" y1="584.50" x2="345.60" y2="584.50" stroke="#111" stroke-width="1.1"/>
<line x1="355.50" y1="564.40" x2="355.50" y2="567.80" stroke="#111" stroke-width="0.9"/>
<rect x="349.90" y="567.80" width="11.60" height="5.50" fill="#e58d1d"/>
<line x1="349.90" y1="570.50" x2="361.50" y2="570.50" stroke="#111" stroke-width="1.1"/>
<circle cx="355.70" cy="583.50" r="0.95" fill="#111"/>
<line x1="370.50" y1="590.00" x2="370.50" y2="591.10" stroke="#111" stroke-width="0.9"/>
<line x1="370.50" y1="592.70" x2="370.50" y2="593.40" stroke="#111" stroke-width="0.9"/>
<rect x="365.10" y="591.10" width="11.80" height="1.60" fill="#64a9e0"/>
<line x1="365.10" y1="591.50" x2="376.90" y2="591.50" stroke="#111" stroke-width="1.1"/>
<line x1="386.50" y1="576.10" x2="386.50" y2="577.50" stroke="#111" stroke-width="0.9"/>
<rect x="380.90" y="565.00" width="11.70" height="11.10" fill="#a80a2e"/>
<line x1="380.90" y1="573.50" x2="392.60" y2="573.50" stroke="#111" stroke-width="1.1"/>
<rect x="303.10" y="630.70" width="11.70" height="1.60" fill="#27467f"/>
<line x1="303.10" y1="631.50" x2="314.80" y2="631.50" stroke="#111" stroke-width="1.1"/>
<rect x="318.70" y="629.60" width="11.50" height="1.90" fill="#f0c020"/>
<line x1="318.70" y1="630.50" x2="330.20" y2="630.50" stroke="#111" stroke-width="1.1"/>
<circle cx="324.45" cy="623.40" r="0.95" fill="#111"/>
<line x1="339.50" y1="618.00" x2="339.50" y2="624.20" stroke="#111" stroke-width="0.9"/>
<line x1="339.50" y1="628.50" x2="339.50" y2="630.40" stroke="#111" stroke-width="0.9"/>
<rect x="334.00" y="624.20" width="11.60" height="4.30" fill="#4b1f60"/>
<line x1="334.00" y1="626.50" x2="345.60" y2="626.50" stroke="#111" stroke-width="1.1"/>
<line x1="355.50" y1="601.00" x2="355.50" y2="604.20" stroke="#111" stroke-width="0.9"/>
<line x1="355.50" y1="614.10" x2="355.50" y2="617.70" stroke="#111" stroke-width="0.9"/>
<rect x="349.90" y="604.20" width="11.60" height="9.90" fill="#e58d1d"/>
<line x1="349.90" y1="606.50" x2="361.50" y2="606.50" stroke="#111" stroke-width="1.1"/>
<rect x="365.10" y="630.90" width="11.80" height="1.60" fill="#64a9e0"/>
<line x1="365.10" y1="631.50" x2="376.90" y2="631.50" stroke="#111" stroke-width="1.1"/>
<line x1="386.50" y1="624.20" x2="386.50" y2="625.50" stroke="#111" stroke-width="0.9"/>
<rect x="380.90" y="625.50" width="11.70" height="4.30" fill="#a80a2e"/>
<line x1="380.90" y1="627.50" x2="392.60" y2="627.50" stroke="#111" stroke-width="1.1"/>
<text x="295.00" y="541.50" font-size="8.7" stroke="#151515" stroke-width="0.1" text-anchor="middle" textLength="70" lengthAdjust="spacingAndGlyphs" fill="#151515" transform="rotate(-90 295.00 541.50)">Normalized expression</text>
<text x="347.90" y="644.60" font-size="8.7" stroke="#151515" stroke-width="0.1" text-anchor="middle" textLength="18.7" lengthAdjust="spacingAndGlyphs" fill="#151515">Group</text>
<rect x="427.70" y="495.20" width="9.30" height="9.70" fill="#27467f"/>
<text x="439.80" y="497.95" font-size="6.5" fill="#151515">Blasts from AML no</text>
<text x="439.80" y="505.65" font-size="6.5" fill="#151515">pDC without RUNX1</text>
<rect x="427.70" y="515.60" width="9.30" height="9.70" fill="#f0c020"/>
<text x="439.80" y="518.35" font-size="6.5" fill="#151515">Blasts from AML no</text>
<text x="439.80" y="526.05" font-size="6.5" fill="#151515">pDC with RUNX1</text>
<rect x="427.70" y="535.60" width="9.30" height="9.70" fill="#4b1f60"/>
<text x="439.80" y="538.35" font-size="6.5" fill="#151515">Blasts from</text>
<text x="439.80" y="546.05" font-size="6.5" fill="#151515">pDC-AML</text>
<rect x="427.70" y="555.80" width="9.30" height="9.70" fill="#e58d1d"/>
<text x="439.80" y="558.55" font-size="6.5" fill="#151515">pDCs from</text>
<text x="439.80" y="566.25" font-size="6.5" fill="#151515">pDC-AML</text>
<rect x="427.70" y="571.30" width="9.30" height="9.70" fill="#64a9e0"/>
<text x="439.80" y="578.45" font-size="6.5" fill="#151515">Normal CD34+</text>
<rect x="427.70" y="583.10" width="9.30" height="9.70" fill="#a80a2e"/>
<text x="439.80" y="590.25" font-size="6.5" fill="#151515">Normal pDCs</text><rect x="0.55" y="0.55" width="518.9" height="667.9" fill="none" stroke="#000" stroke-width="1.1"/></svg></body></html>
